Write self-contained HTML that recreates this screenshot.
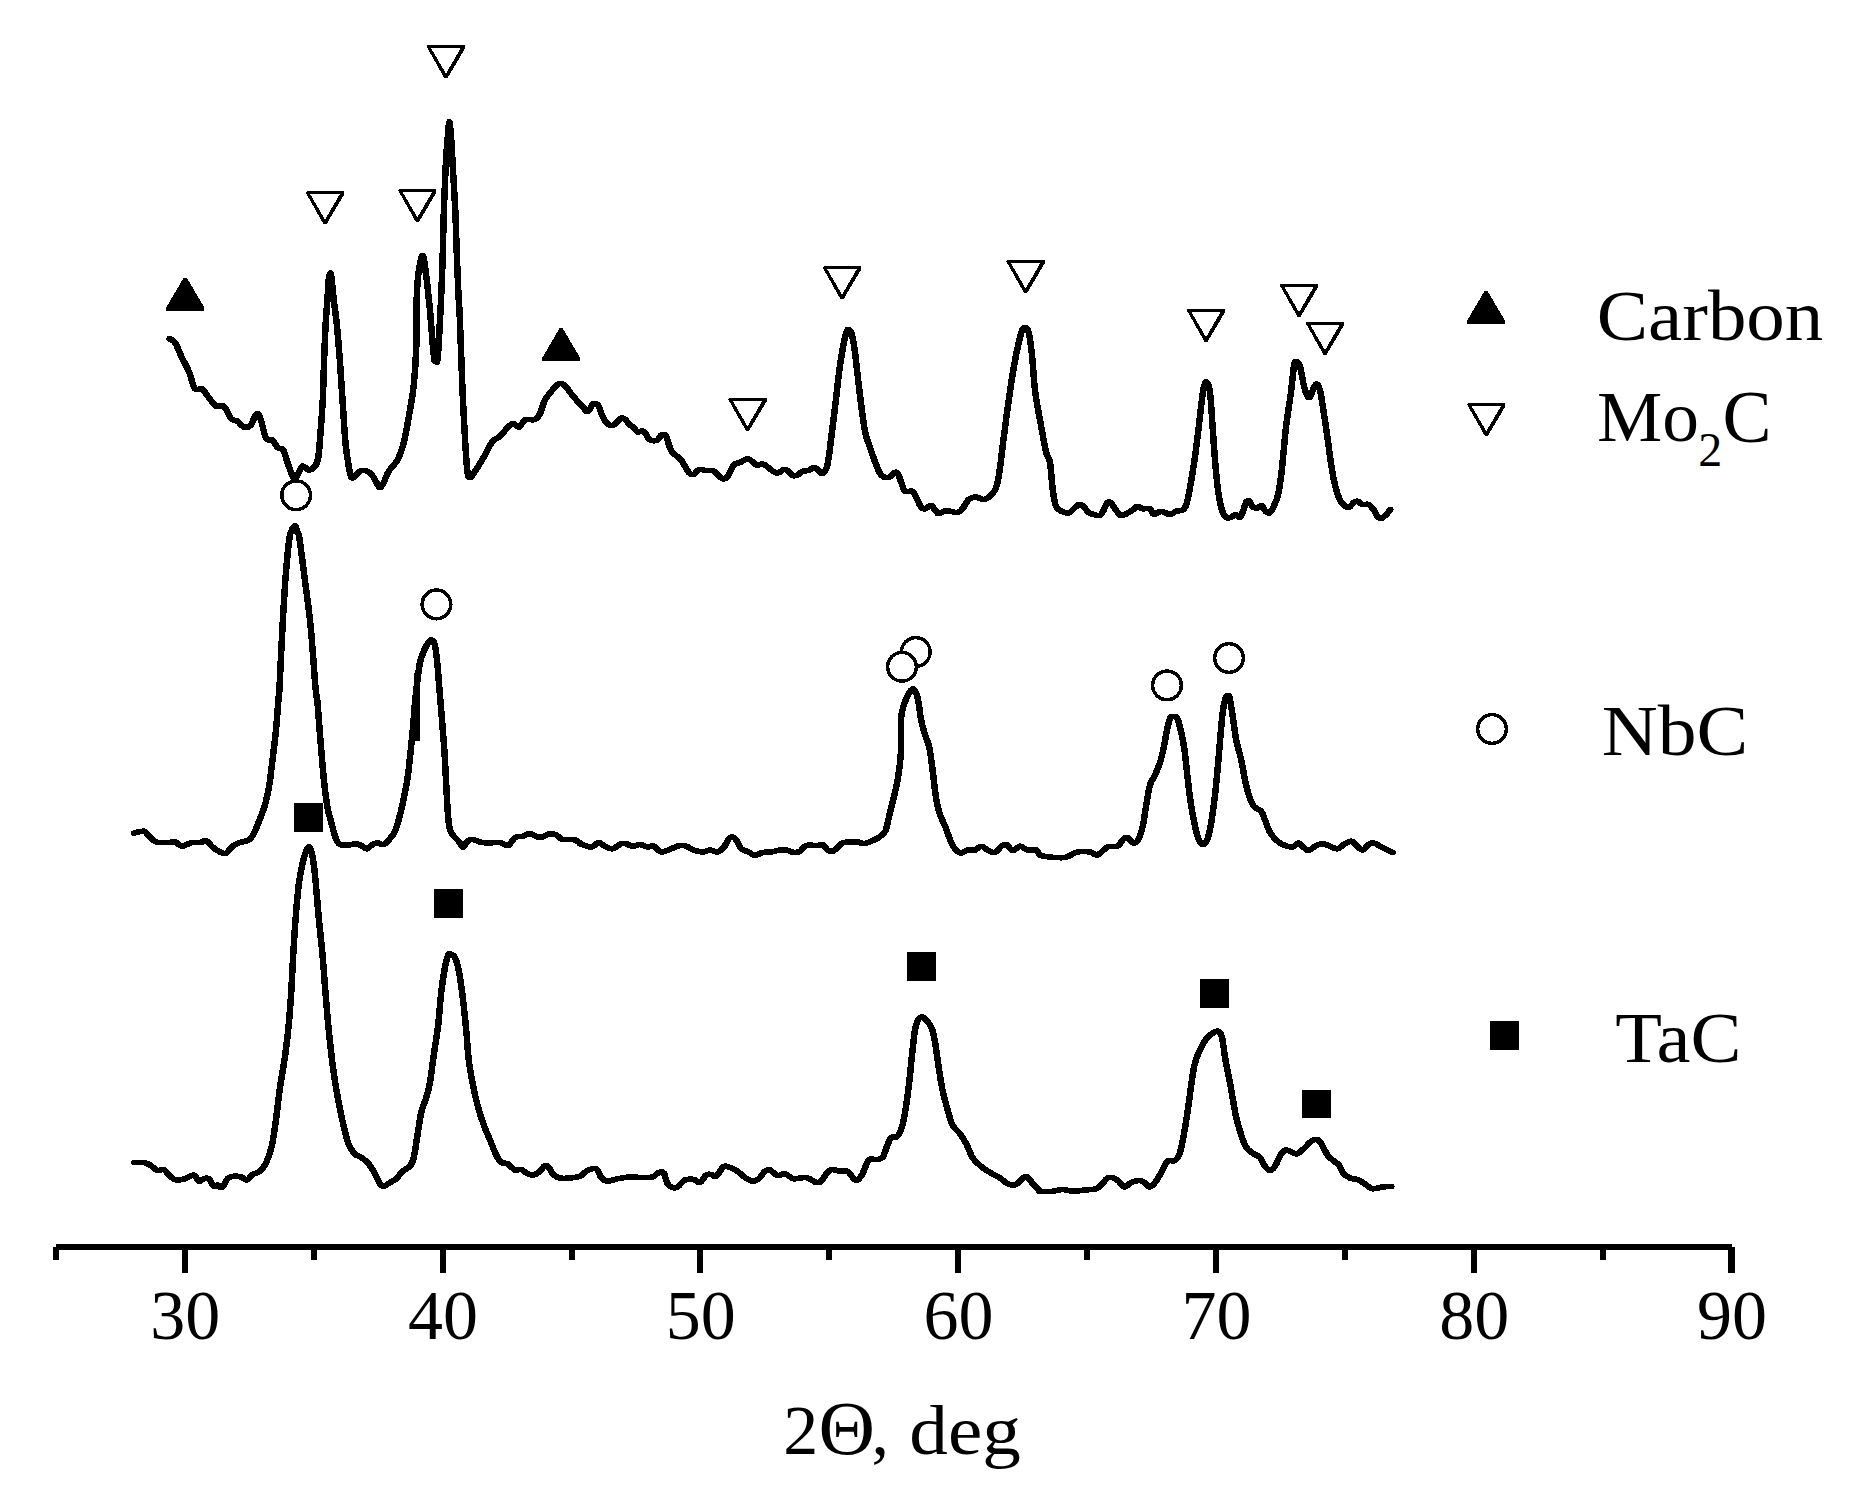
<!DOCTYPE html>
<html><head><meta charset="utf-8"><title>XRD patterns</title>
<style>html,body{margin:0;padding:0;background:#fff}svg{display:block}</style></head>
<body>
<svg width="1871" height="1508" viewBox="0 0 1871 1508" shape-rendering="crispEdges">
<rect width="1871" height="1508" fill="#fff"/>
<g fill="none" stroke="#000" stroke-width="5.50" stroke-linejoin="round" stroke-linecap="round"><path d="M169.50 338.75C170.42 339.38 173.04 339.58 175.00 342.50C176.96 345.42 178.96 351.46 181.25 356.25C183.54 361.04 186.46 365.83 188.75 371.25C191.04 376.67 192.79 385.83 195.00 388.75C197.21 391.67 199.71 387.29 202.00 388.75C204.29 390.21 206.38 394.58 208.75 397.50C211.12 400.42 213.75 404.79 216.25 406.25C218.75 407.71 221.25 404.17 223.75 406.25C226.25 408.33 228.96 416.25 231.25 418.75C233.54 421.25 235.42 419.88 237.50 421.25C239.58 422.62 241.58 426.29 243.75 427.00C245.92 427.71 248.62 427.29 250.50 425.50C252.38 423.71 253.75 418.21 255.00 416.25C256.25 414.29 256.96 412.92 258.00 413.75C259.04 414.58 259.88 417.08 261.25 421.25C262.62 425.42 264.38 435.62 266.25 438.75C268.12 441.88 270.62 438.54 272.50 440.00C274.38 441.46 275.71 445.83 277.50 447.50C279.29 449.17 281.58 447.50 283.25 450.00C284.92 452.50 285.75 457.71 287.50 462.50C289.25 467.29 292.29 476.25 293.75 478.75C295.21 481.25 294.79 479.58 296.25 477.50C297.71 475.42 300.42 467.50 302.50 466.25C304.58 465.00 306.67 470.00 308.75 470.00C310.83 470.00 313.42 468.33 315.00 466.25C316.58 464.17 317.40 462.21 318.25 457.50C319.10 452.79 319.35 447.52 320.10 438.00C320.85 428.48 322.10 412.93 322.75 400.40C323.40 387.87 323.52 375.33 324.00 362.80C324.48 350.27 325.03 335.65 325.60 325.20C326.17 314.75 326.92 307.42 327.40 300.10C327.88 292.78 328.13 285.45 328.50 281.30C328.87 277.15 329.28 276.62 329.60 275.20C329.92 273.78 330.15 272.80 330.40 272.80C330.65 272.80 330.85 273.78 331.10 275.20C331.35 276.62 331.45 277.15 331.90 281.30C332.35 285.45 332.97 292.78 333.80 300.10C334.63 307.42 335.86 314.75 336.90 325.20C337.94 335.65 339.11 350.27 340.05 362.80C340.99 375.33 341.72 387.87 342.55 400.40C343.38 412.93 344.32 428.90 345.06 438.00C345.80 447.10 346.09 448.83 347.00 455.00C347.91 461.17 349.38 471.25 350.50 475.00C351.62 478.75 352.17 478.12 353.75 477.50C355.33 476.88 357.71 472.29 360.00 471.25C362.29 470.21 365.21 470.21 367.50 471.25C369.79 472.29 371.57 474.82 373.75 477.50C375.93 480.18 378.10 488.34 380.60 487.30C383.10 486.26 385.93 475.80 388.75 471.25C391.57 466.70 395.00 464.79 397.50 460.00C400.00 455.21 401.67 450.83 403.75 442.50C405.83 434.17 408.33 419.58 410.00 410.00C411.67 400.42 412.71 395.42 413.75 385.00C414.79 374.58 415.75 362.08 416.25 347.50C416.75 332.92 416.56 307.92 416.75 297.50C416.94 287.08 417.09 289.17 417.40 285.00C417.71 280.83 418.02 276.67 418.60 272.50C419.18 268.33 420.25 262.87 420.90 260.00C421.55 257.13 421.97 255.30 422.50 255.30C423.03 255.30 423.56 257.13 424.10 260.00C424.64 262.87 425.20 268.33 425.75 272.50C426.30 276.67 426.92 280.83 427.40 285.00C427.88 289.17 428.17 293.33 428.60 297.50C429.03 301.67 429.14 300.42 430.00 310.00C430.86 319.58 432.79 346.46 433.75 355.00C434.71 363.54 435.04 361.25 435.75 361.25C436.46 361.25 437.11 365.62 438.00 355.00C438.89 344.38 440.33 313.33 441.10 297.50C441.87 281.67 442.13 274.58 442.60 260.00C443.07 245.42 443.33 226.67 443.90 210.00C444.47 193.33 445.41 171.46 446.00 160.00C446.59 148.54 447.02 146.75 447.45 141.25C447.88 135.75 448.28 130.25 448.60 127.00C448.93 123.75 449.13 121.75 449.40 121.75C449.67 121.75 449.88 123.75 450.20 127.00C450.52 130.25 450.98 135.75 451.35 141.25C451.72 146.75 451.75 148.54 452.40 160.00C453.05 171.46 454.48 193.33 455.25 210.00C456.02 226.67 456.44 245.42 457.00 260.00C457.56 274.58 458.17 288.83 458.60 297.50C459.03 306.17 459.20 303.25 459.60 312.00C460.00 320.75 460.40 334.50 461.00 350.00C461.60 365.50 462.20 385.42 463.20 405.00C464.20 424.58 465.87 455.42 467.00 467.50C468.13 479.58 468.67 476.88 470.00 477.50C471.33 478.12 472.50 475.00 475.00 471.25C477.50 467.50 482.08 460.00 485.00 455.00C487.92 450.00 490.00 444.38 492.50 441.25C495.00 438.12 497.29 438.75 500.00 436.25C502.71 433.75 506.46 428.33 508.75 426.25C511.04 424.17 512.00 423.62 513.75 423.75C515.50 423.88 517.38 427.62 519.25 427.00C521.12 426.38 522.38 421.25 525.00 420.00C527.62 418.75 532.50 420.54 535.00 419.50C537.50 418.46 538.33 417.00 540.00 413.75C541.67 410.50 542.92 403.96 545.00 400.00C547.08 396.04 550.42 392.60 552.50 390.00C554.58 387.40 556.15 385.46 557.50 384.38C558.85 383.29 559.38 383.29 560.62 383.50C561.88 383.71 563.23 383.92 565.00 385.62C566.77 387.33 569.17 391.15 571.25 393.75C573.33 396.35 575.62 399.17 577.50 401.25C579.38 403.33 581.04 404.54 582.50 406.25C583.96 407.96 585.10 410.88 586.25 411.50C587.40 412.12 588.33 411.19 589.38 410.00C590.42 408.81 591.46 405.46 592.50 404.38C593.54 403.29 594.58 403.19 595.62 403.50C596.67 403.81 597.60 404.12 598.75 406.25C599.90 408.38 601.04 413.33 602.50 416.25C603.96 419.17 605.94 422.19 607.50 423.75C609.06 425.31 610.42 425.73 611.88 425.62C613.33 425.52 614.79 424.31 616.25 423.12C617.71 421.94 619.27 419.23 620.62 418.50C621.98 417.77 622.81 417.67 624.38 418.75C625.94 419.83 628.44 423.54 630.00 425.00C631.56 426.46 632.50 426.35 633.75 427.50C635.00 428.65 636.04 431.29 637.50 431.88C638.96 432.46 641.15 430.69 642.50 431.00C643.85 431.31 644.58 432.46 645.62 433.75C646.67 435.04 647.71 437.60 648.75 438.75C649.79 439.90 650.42 440.42 651.88 440.62C653.33 440.83 656.04 440.83 657.50 440.00C658.96 439.17 659.69 436.56 660.62 435.62C661.56 434.69 662.19 434.27 663.12 434.38C664.06 434.48 665.21 434.27 666.25 436.25C667.29 438.23 668.33 443.54 669.38 446.25C670.42 448.96 670.73 450.42 672.50 452.50C674.27 454.58 677.92 456.46 680.00 458.75C682.08 461.04 683.44 463.85 685.00 466.25C686.56 468.65 687.92 471.77 689.38 473.12C690.83 474.48 692.08 475.00 693.75 474.38C695.42 473.75 697.29 470.00 699.38 469.38C701.46 468.75 703.96 470.42 706.25 470.62C708.54 470.83 711.04 469.79 713.12 470.62C715.21 471.46 717.08 474.23 718.75 475.62C720.42 477.02 721.67 478.79 723.12 479.00C724.58 479.21 725.73 479.21 727.50 476.88C729.27 474.54 731.67 467.40 733.75 465.00C735.83 462.60 737.81 463.54 740.00 462.50C742.19 461.46 745.00 459.06 746.88 458.75C748.75 458.44 749.58 459.58 751.25 460.62C752.92 461.67 754.79 464.38 756.88 465.00C758.96 465.62 760.52 463.04 763.75 464.38C766.98 465.71 772.92 472.15 776.25 473.00C779.58 473.85 781.88 469.92 783.75 469.50C785.62 469.08 786.04 469.50 787.50 470.50C788.96 471.50 790.83 474.75 792.50 475.50C794.17 476.25 795.83 475.71 797.50 475.00C799.17 474.29 800.62 472.00 802.50 471.25C804.38 470.50 806.88 471.12 808.75 470.50C810.62 469.88 812.29 467.67 813.75 467.50C815.21 467.33 816.12 468.46 817.50 469.50C818.88 470.54 820.54 473.88 822.00 473.75C823.46 473.62 825.12 471.46 826.25 468.75C827.38 466.04 827.92 462.71 828.75 457.50C829.58 452.29 830.21 445.83 831.25 437.50C832.29 429.17 833.75 417.92 835.00 407.50C836.25 397.08 837.50 384.58 838.75 375.00C840.00 365.42 841.25 357.08 842.50 350.00C843.75 342.92 845.21 335.88 846.25 332.50C847.29 329.12 847.79 329.28 848.75 329.70C849.71 330.12 850.96 331.20 852.00 335.00C853.04 338.80 853.88 344.17 855.00 352.50C856.12 360.83 857.50 374.58 858.75 385.00C860.00 395.42 861.38 406.88 862.50 415.00C863.62 423.12 864.25 428.33 865.50 433.75C866.75 439.17 868.21 442.29 870.00 447.50C871.79 452.71 874.38 460.42 876.25 465.00C878.12 469.58 879.17 472.92 881.25 475.00C883.33 477.08 886.67 477.83 888.75 477.50C890.83 477.17 892.29 473.75 893.75 473.00C895.21 472.25 896.25 471.42 897.50 473.00C898.75 474.58 900.00 479.46 901.25 482.50C902.50 485.54 903.12 489.79 905.00 491.25C906.88 492.71 910.62 490.21 912.50 491.25C914.38 492.29 914.79 494.79 916.25 497.50C917.71 500.21 919.79 505.62 921.25 507.50C922.71 509.38 923.33 509.08 925.00 508.75C926.67 508.42 929.58 505.29 931.25 505.50C932.92 505.71 933.75 508.62 935.00 510.00C936.25 511.38 936.88 513.62 938.75 513.75C940.62 513.88 943.12 510.96 946.25 510.75C949.38 510.54 954.79 512.83 957.50 512.50C960.21 512.17 960.62 510.92 962.50 508.75C964.38 506.58 966.46 501.46 968.75 499.50C971.04 497.54 973.75 497.00 976.25 497.00C978.75 497.00 981.04 500.04 983.75 499.50C986.46 498.96 990.29 496.17 992.50 493.75C994.71 491.33 995.75 489.38 997.00 485.00C998.25 480.62 998.88 475.42 1000.00 467.50C1001.12 459.58 1002.29 448.75 1003.75 437.50C1005.21 426.25 1007.08 411.67 1008.75 400.00C1010.42 388.33 1012.08 377.08 1013.75 367.50C1015.42 357.92 1017.29 348.83 1018.75 342.50C1020.21 336.17 1021.38 331.95 1022.50 329.50C1023.62 327.05 1024.46 327.30 1025.50 327.80C1026.54 328.30 1027.67 327.97 1028.75 332.50C1029.83 337.03 1030.96 345.42 1032.00 355.00C1033.04 364.58 1033.67 379.17 1035.00 390.00C1036.33 400.83 1038.12 409.58 1040.00 420.00C1041.88 430.42 1044.58 445.42 1046.25 452.50C1047.92 459.58 1048.96 456.67 1050.00 462.50C1051.04 468.33 1051.58 480.42 1052.50 487.50C1053.42 494.58 1054.25 501.17 1055.50 505.00C1056.75 508.83 1057.79 509.17 1060.00 510.50C1062.21 511.83 1066.46 513.29 1068.75 513.00C1071.04 512.71 1072.08 510.17 1073.75 508.75C1075.42 507.33 1077.29 505.04 1078.75 504.50C1080.21 503.96 1080.83 504.17 1082.50 505.50C1084.17 506.83 1086.88 511.00 1088.75 512.50C1090.62 514.00 1091.88 514.00 1093.75 514.50C1095.62 515.00 1098.33 516.25 1100.00 515.50C1101.67 514.75 1102.58 512.08 1103.75 510.00C1104.92 507.92 1105.88 504.25 1107.00 503.00C1108.12 501.75 1109.17 501.54 1110.50 502.50C1111.83 503.46 1113.42 506.67 1115.00 508.75C1116.58 510.83 1118.33 514.04 1120.00 515.00C1121.67 515.96 1122.92 515.33 1125.00 514.50C1127.08 513.67 1130.42 511.38 1132.50 510.00C1134.58 508.62 1135.83 506.46 1137.50 506.25C1139.17 506.04 1140.42 508.33 1142.50 508.75C1144.58 509.17 1148.12 507.79 1150.00 508.75C1151.88 509.71 1152.29 513.96 1153.75 514.50C1155.21 515.04 1157.08 512.42 1158.75 512.00C1160.42 511.58 1161.88 511.58 1163.75 512.00C1165.62 512.42 1167.92 514.62 1170.00 514.50C1172.08 514.38 1174.17 512.00 1176.25 511.25C1178.33 510.50 1180.83 511.04 1182.50 510.00C1184.17 508.96 1185.00 508.75 1186.25 505.00C1187.50 501.25 1188.75 494.17 1190.00 487.50C1191.25 480.83 1192.50 473.33 1193.75 465.00C1195.00 456.67 1196.25 447.50 1197.50 437.50C1198.75 427.50 1200.21 413.33 1201.25 405.00C1202.29 396.67 1202.83 391.33 1203.75 387.50C1204.67 383.67 1205.71 381.17 1206.75 382.00C1207.79 382.83 1209.04 385.33 1210.00 392.50C1210.96 399.67 1211.67 413.75 1212.50 425.00C1213.33 436.25 1214.08 449.17 1215.00 460.00C1215.92 470.83 1216.83 481.67 1218.00 490.00C1219.17 498.33 1220.62 505.42 1222.00 510.00C1223.38 514.58 1224.71 516.33 1226.25 517.50C1227.79 518.67 1229.71 517.50 1231.25 517.00C1232.79 516.50 1234.04 514.42 1235.50 514.50C1236.96 514.58 1238.75 518.04 1240.00 517.50C1241.25 516.96 1241.96 513.83 1243.00 511.25C1244.04 508.67 1245.17 503.67 1246.25 502.00C1247.33 500.33 1248.38 500.42 1249.50 501.25C1250.62 502.08 1251.67 505.88 1253.00 507.00C1254.33 508.12 1256.00 508.25 1257.50 508.00C1259.00 507.75 1260.67 504.96 1262.00 505.50C1263.33 506.04 1264.25 510.00 1265.50 511.25C1266.75 512.50 1268.12 513.83 1269.50 513.00C1270.88 512.17 1272.33 509.25 1273.75 506.25C1275.17 503.25 1276.75 500.21 1278.00 495.00C1279.25 489.79 1280.29 482.50 1281.25 475.00C1282.21 467.50 1282.92 458.33 1283.75 450.00C1284.58 441.67 1285.11 434.17 1286.25 425.00C1287.39 415.83 1289.49 403.33 1290.60 395.00C1291.71 386.67 1292.28 380.17 1292.90 375.00C1293.52 369.83 1293.73 366.25 1294.30 364.00C1294.87 361.75 1295.35 361.12 1296.30 361.50C1297.25 361.88 1298.76 362.33 1300.00 366.25C1301.24 370.17 1302.50 380.00 1303.75 385.00C1305.00 390.00 1306.38 394.38 1307.50 396.25C1308.62 398.12 1309.33 397.92 1310.50 396.25C1311.67 394.58 1313.33 388.21 1314.50 386.25C1315.67 384.29 1316.50 383.46 1317.50 384.50C1318.50 385.54 1319.46 387.83 1320.50 392.50C1321.54 397.17 1322.58 405.00 1323.75 412.50C1324.92 420.00 1326.25 428.75 1327.50 437.50C1328.75 446.25 1330.00 457.08 1331.25 465.00C1332.50 472.92 1333.54 479.17 1335.00 485.00C1336.46 490.83 1338.33 496.46 1340.00 500.00C1341.67 503.54 1343.42 505.08 1345.00 506.25C1346.58 507.42 1348.04 507.62 1349.50 507.00C1350.96 506.38 1352.42 503.46 1353.75 502.50C1355.08 501.54 1356.04 500.92 1357.50 501.25C1358.96 501.58 1360.62 503.96 1362.50 504.50C1364.38 505.04 1366.88 503.58 1368.75 504.50C1370.62 505.42 1372.21 507.92 1373.75 510.00C1375.29 512.08 1376.62 515.67 1378.00 517.00C1379.38 518.33 1380.62 518.42 1382.00 518.00C1383.38 517.58 1384.87 515.92 1386.25 514.50C1387.63 513.08 1389.62 510.33 1390.30 509.50" transform="translate(-0.5 0)"/><path d="M169.50 338.75C170.42 339.38 173.04 339.58 175.00 342.50C176.96 345.42 178.96 351.46 181.25 356.25C183.54 361.04 186.46 365.83 188.75 371.25C191.04 376.67 192.79 385.83 195.00 388.75C197.21 391.67 199.71 387.29 202.00 388.75C204.29 390.21 206.38 394.58 208.75 397.50C211.12 400.42 213.75 404.79 216.25 406.25C218.75 407.71 221.25 404.17 223.75 406.25C226.25 408.33 228.96 416.25 231.25 418.75C233.54 421.25 235.42 419.88 237.50 421.25C239.58 422.62 241.58 426.29 243.75 427.00C245.92 427.71 248.62 427.29 250.50 425.50C252.38 423.71 253.75 418.21 255.00 416.25C256.25 414.29 256.96 412.92 258.00 413.75C259.04 414.58 259.88 417.08 261.25 421.25C262.62 425.42 264.38 435.62 266.25 438.75C268.12 441.88 270.62 438.54 272.50 440.00C274.38 441.46 275.71 445.83 277.50 447.50C279.29 449.17 281.58 447.50 283.25 450.00C284.92 452.50 285.75 457.71 287.50 462.50C289.25 467.29 292.29 476.25 293.75 478.75C295.21 481.25 294.79 479.58 296.25 477.50C297.71 475.42 300.42 467.50 302.50 466.25C304.58 465.00 306.67 470.00 308.75 470.00C310.83 470.00 313.42 468.33 315.00 466.25C316.58 464.17 317.40 462.21 318.25 457.50C319.10 452.79 319.35 447.52 320.10 438.00C320.85 428.48 322.10 412.93 322.75 400.40C323.40 387.87 323.52 375.33 324.00 362.80C324.48 350.27 325.03 335.65 325.60 325.20C326.17 314.75 326.92 307.42 327.40 300.10C327.88 292.78 328.13 285.45 328.50 281.30C328.87 277.15 329.28 276.62 329.60 275.20C329.92 273.78 330.15 272.80 330.40 272.80C330.65 272.80 330.85 273.78 331.10 275.20C331.35 276.62 331.45 277.15 331.90 281.30C332.35 285.45 332.97 292.78 333.80 300.10C334.63 307.42 335.86 314.75 336.90 325.20C337.94 335.65 339.11 350.27 340.05 362.80C340.99 375.33 341.72 387.87 342.55 400.40C343.38 412.93 344.32 428.90 345.06 438.00C345.80 447.10 346.09 448.83 347.00 455.00C347.91 461.17 349.38 471.25 350.50 475.00C351.62 478.75 352.17 478.12 353.75 477.50C355.33 476.88 357.71 472.29 360.00 471.25C362.29 470.21 365.21 470.21 367.50 471.25C369.79 472.29 371.57 474.82 373.75 477.50C375.93 480.18 378.10 488.34 380.60 487.30C383.10 486.26 385.93 475.80 388.75 471.25C391.57 466.70 395.00 464.79 397.50 460.00C400.00 455.21 401.67 450.83 403.75 442.50C405.83 434.17 408.33 419.58 410.00 410.00C411.67 400.42 412.71 395.42 413.75 385.00C414.79 374.58 415.75 362.08 416.25 347.50C416.75 332.92 416.56 307.92 416.75 297.50C416.94 287.08 417.09 289.17 417.40 285.00C417.71 280.83 418.02 276.67 418.60 272.50C419.18 268.33 420.25 262.87 420.90 260.00C421.55 257.13 421.97 255.30 422.50 255.30C423.03 255.30 423.56 257.13 424.10 260.00C424.64 262.87 425.20 268.33 425.75 272.50C426.30 276.67 426.92 280.83 427.40 285.00C427.88 289.17 428.17 293.33 428.60 297.50C429.03 301.67 429.14 300.42 430.00 310.00C430.86 319.58 432.79 346.46 433.75 355.00C434.71 363.54 435.04 361.25 435.75 361.25C436.46 361.25 437.11 365.62 438.00 355.00C438.89 344.38 440.33 313.33 441.10 297.50C441.87 281.67 442.13 274.58 442.60 260.00C443.07 245.42 443.33 226.67 443.90 210.00C444.47 193.33 445.41 171.46 446.00 160.00C446.59 148.54 447.02 146.75 447.45 141.25C447.88 135.75 448.28 130.25 448.60 127.00C448.93 123.75 449.13 121.75 449.40 121.75C449.67 121.75 449.88 123.75 450.20 127.00C450.52 130.25 450.98 135.75 451.35 141.25C451.72 146.75 451.75 148.54 452.40 160.00C453.05 171.46 454.48 193.33 455.25 210.00C456.02 226.67 456.44 245.42 457.00 260.00C457.56 274.58 458.17 288.83 458.60 297.50C459.03 306.17 459.20 303.25 459.60 312.00C460.00 320.75 460.40 334.50 461.00 350.00C461.60 365.50 462.20 385.42 463.20 405.00C464.20 424.58 465.87 455.42 467.00 467.50C468.13 479.58 468.67 476.88 470.00 477.50C471.33 478.12 472.50 475.00 475.00 471.25C477.50 467.50 482.08 460.00 485.00 455.00C487.92 450.00 490.00 444.38 492.50 441.25C495.00 438.12 497.29 438.75 500.00 436.25C502.71 433.75 506.46 428.33 508.75 426.25C511.04 424.17 512.00 423.62 513.75 423.75C515.50 423.88 517.38 427.62 519.25 427.00C521.12 426.38 522.38 421.25 525.00 420.00C527.62 418.75 532.50 420.54 535.00 419.50C537.50 418.46 538.33 417.00 540.00 413.75C541.67 410.50 542.92 403.96 545.00 400.00C547.08 396.04 550.42 392.60 552.50 390.00C554.58 387.40 556.15 385.46 557.50 384.38C558.85 383.29 559.38 383.29 560.62 383.50C561.88 383.71 563.23 383.92 565.00 385.62C566.77 387.33 569.17 391.15 571.25 393.75C573.33 396.35 575.62 399.17 577.50 401.25C579.38 403.33 581.04 404.54 582.50 406.25C583.96 407.96 585.10 410.88 586.25 411.50C587.40 412.12 588.33 411.19 589.38 410.00C590.42 408.81 591.46 405.46 592.50 404.38C593.54 403.29 594.58 403.19 595.62 403.50C596.67 403.81 597.60 404.12 598.75 406.25C599.90 408.38 601.04 413.33 602.50 416.25C603.96 419.17 605.94 422.19 607.50 423.75C609.06 425.31 610.42 425.73 611.88 425.62C613.33 425.52 614.79 424.31 616.25 423.12C617.71 421.94 619.27 419.23 620.62 418.50C621.98 417.77 622.81 417.67 624.38 418.75C625.94 419.83 628.44 423.54 630.00 425.00C631.56 426.46 632.50 426.35 633.75 427.50C635.00 428.65 636.04 431.29 637.50 431.88C638.96 432.46 641.15 430.69 642.50 431.00C643.85 431.31 644.58 432.46 645.62 433.75C646.67 435.04 647.71 437.60 648.75 438.75C649.79 439.90 650.42 440.42 651.88 440.62C653.33 440.83 656.04 440.83 657.50 440.00C658.96 439.17 659.69 436.56 660.62 435.62C661.56 434.69 662.19 434.27 663.12 434.38C664.06 434.48 665.21 434.27 666.25 436.25C667.29 438.23 668.33 443.54 669.38 446.25C670.42 448.96 670.73 450.42 672.50 452.50C674.27 454.58 677.92 456.46 680.00 458.75C682.08 461.04 683.44 463.85 685.00 466.25C686.56 468.65 687.92 471.77 689.38 473.12C690.83 474.48 692.08 475.00 693.75 474.38C695.42 473.75 697.29 470.00 699.38 469.38C701.46 468.75 703.96 470.42 706.25 470.62C708.54 470.83 711.04 469.79 713.12 470.62C715.21 471.46 717.08 474.23 718.75 475.62C720.42 477.02 721.67 478.79 723.12 479.00C724.58 479.21 725.73 479.21 727.50 476.88C729.27 474.54 731.67 467.40 733.75 465.00C735.83 462.60 737.81 463.54 740.00 462.50C742.19 461.46 745.00 459.06 746.88 458.75C748.75 458.44 749.58 459.58 751.25 460.62C752.92 461.67 754.79 464.38 756.88 465.00C758.96 465.62 760.52 463.04 763.75 464.38C766.98 465.71 772.92 472.15 776.25 473.00C779.58 473.85 781.88 469.92 783.75 469.50C785.62 469.08 786.04 469.50 787.50 470.50C788.96 471.50 790.83 474.75 792.50 475.50C794.17 476.25 795.83 475.71 797.50 475.00C799.17 474.29 800.62 472.00 802.50 471.25C804.38 470.50 806.88 471.12 808.75 470.50C810.62 469.88 812.29 467.67 813.75 467.50C815.21 467.33 816.12 468.46 817.50 469.50C818.88 470.54 820.54 473.88 822.00 473.75C823.46 473.62 825.12 471.46 826.25 468.75C827.38 466.04 827.92 462.71 828.75 457.50C829.58 452.29 830.21 445.83 831.25 437.50C832.29 429.17 833.75 417.92 835.00 407.50C836.25 397.08 837.50 384.58 838.75 375.00C840.00 365.42 841.25 357.08 842.50 350.00C843.75 342.92 845.21 335.88 846.25 332.50C847.29 329.12 847.79 329.28 848.75 329.70C849.71 330.12 850.96 331.20 852.00 335.00C853.04 338.80 853.88 344.17 855.00 352.50C856.12 360.83 857.50 374.58 858.75 385.00C860.00 395.42 861.38 406.88 862.50 415.00C863.62 423.12 864.25 428.33 865.50 433.75C866.75 439.17 868.21 442.29 870.00 447.50C871.79 452.71 874.38 460.42 876.25 465.00C878.12 469.58 879.17 472.92 881.25 475.00C883.33 477.08 886.67 477.83 888.75 477.50C890.83 477.17 892.29 473.75 893.75 473.00C895.21 472.25 896.25 471.42 897.50 473.00C898.75 474.58 900.00 479.46 901.25 482.50C902.50 485.54 903.12 489.79 905.00 491.25C906.88 492.71 910.62 490.21 912.50 491.25C914.38 492.29 914.79 494.79 916.25 497.50C917.71 500.21 919.79 505.62 921.25 507.50C922.71 509.38 923.33 509.08 925.00 508.75C926.67 508.42 929.58 505.29 931.25 505.50C932.92 505.71 933.75 508.62 935.00 510.00C936.25 511.38 936.88 513.62 938.75 513.75C940.62 513.88 943.12 510.96 946.25 510.75C949.38 510.54 954.79 512.83 957.50 512.50C960.21 512.17 960.62 510.92 962.50 508.75C964.38 506.58 966.46 501.46 968.75 499.50C971.04 497.54 973.75 497.00 976.25 497.00C978.75 497.00 981.04 500.04 983.75 499.50C986.46 498.96 990.29 496.17 992.50 493.75C994.71 491.33 995.75 489.38 997.00 485.00C998.25 480.62 998.88 475.42 1000.00 467.50C1001.12 459.58 1002.29 448.75 1003.75 437.50C1005.21 426.25 1007.08 411.67 1008.75 400.00C1010.42 388.33 1012.08 377.08 1013.75 367.50C1015.42 357.92 1017.29 348.83 1018.75 342.50C1020.21 336.17 1021.38 331.95 1022.50 329.50C1023.62 327.05 1024.46 327.30 1025.50 327.80C1026.54 328.30 1027.67 327.97 1028.75 332.50C1029.83 337.03 1030.96 345.42 1032.00 355.00C1033.04 364.58 1033.67 379.17 1035.00 390.00C1036.33 400.83 1038.12 409.58 1040.00 420.00C1041.88 430.42 1044.58 445.42 1046.25 452.50C1047.92 459.58 1048.96 456.67 1050.00 462.50C1051.04 468.33 1051.58 480.42 1052.50 487.50C1053.42 494.58 1054.25 501.17 1055.50 505.00C1056.75 508.83 1057.79 509.17 1060.00 510.50C1062.21 511.83 1066.46 513.29 1068.75 513.00C1071.04 512.71 1072.08 510.17 1073.75 508.75C1075.42 507.33 1077.29 505.04 1078.75 504.50C1080.21 503.96 1080.83 504.17 1082.50 505.50C1084.17 506.83 1086.88 511.00 1088.75 512.50C1090.62 514.00 1091.88 514.00 1093.75 514.50C1095.62 515.00 1098.33 516.25 1100.00 515.50C1101.67 514.75 1102.58 512.08 1103.75 510.00C1104.92 507.92 1105.88 504.25 1107.00 503.00C1108.12 501.75 1109.17 501.54 1110.50 502.50C1111.83 503.46 1113.42 506.67 1115.00 508.75C1116.58 510.83 1118.33 514.04 1120.00 515.00C1121.67 515.96 1122.92 515.33 1125.00 514.50C1127.08 513.67 1130.42 511.38 1132.50 510.00C1134.58 508.62 1135.83 506.46 1137.50 506.25C1139.17 506.04 1140.42 508.33 1142.50 508.75C1144.58 509.17 1148.12 507.79 1150.00 508.75C1151.88 509.71 1152.29 513.96 1153.75 514.50C1155.21 515.04 1157.08 512.42 1158.75 512.00C1160.42 511.58 1161.88 511.58 1163.75 512.00C1165.62 512.42 1167.92 514.62 1170.00 514.50C1172.08 514.38 1174.17 512.00 1176.25 511.25C1178.33 510.50 1180.83 511.04 1182.50 510.00C1184.17 508.96 1185.00 508.75 1186.25 505.00C1187.50 501.25 1188.75 494.17 1190.00 487.50C1191.25 480.83 1192.50 473.33 1193.75 465.00C1195.00 456.67 1196.25 447.50 1197.50 437.50C1198.75 427.50 1200.21 413.33 1201.25 405.00C1202.29 396.67 1202.83 391.33 1203.75 387.50C1204.67 383.67 1205.71 381.17 1206.75 382.00C1207.79 382.83 1209.04 385.33 1210.00 392.50C1210.96 399.67 1211.67 413.75 1212.50 425.00C1213.33 436.25 1214.08 449.17 1215.00 460.00C1215.92 470.83 1216.83 481.67 1218.00 490.00C1219.17 498.33 1220.62 505.42 1222.00 510.00C1223.38 514.58 1224.71 516.33 1226.25 517.50C1227.79 518.67 1229.71 517.50 1231.25 517.00C1232.79 516.50 1234.04 514.42 1235.50 514.50C1236.96 514.58 1238.75 518.04 1240.00 517.50C1241.25 516.96 1241.96 513.83 1243.00 511.25C1244.04 508.67 1245.17 503.67 1246.25 502.00C1247.33 500.33 1248.38 500.42 1249.50 501.25C1250.62 502.08 1251.67 505.88 1253.00 507.00C1254.33 508.12 1256.00 508.25 1257.50 508.00C1259.00 507.75 1260.67 504.96 1262.00 505.50C1263.33 506.04 1264.25 510.00 1265.50 511.25C1266.75 512.50 1268.12 513.83 1269.50 513.00C1270.88 512.17 1272.33 509.25 1273.75 506.25C1275.17 503.25 1276.75 500.21 1278.00 495.00C1279.25 489.79 1280.29 482.50 1281.25 475.00C1282.21 467.50 1282.92 458.33 1283.75 450.00C1284.58 441.67 1285.11 434.17 1286.25 425.00C1287.39 415.83 1289.49 403.33 1290.60 395.00C1291.71 386.67 1292.28 380.17 1292.90 375.00C1293.52 369.83 1293.73 366.25 1294.30 364.00C1294.87 361.75 1295.35 361.12 1296.30 361.50C1297.25 361.88 1298.76 362.33 1300.00 366.25C1301.24 370.17 1302.50 380.00 1303.75 385.00C1305.00 390.00 1306.38 394.38 1307.50 396.25C1308.62 398.12 1309.33 397.92 1310.50 396.25C1311.67 394.58 1313.33 388.21 1314.50 386.25C1315.67 384.29 1316.50 383.46 1317.50 384.50C1318.50 385.54 1319.46 387.83 1320.50 392.50C1321.54 397.17 1322.58 405.00 1323.75 412.50C1324.92 420.00 1326.25 428.75 1327.50 437.50C1328.75 446.25 1330.00 457.08 1331.25 465.00C1332.50 472.92 1333.54 479.17 1335.00 485.00C1336.46 490.83 1338.33 496.46 1340.00 500.00C1341.67 503.54 1343.42 505.08 1345.00 506.25C1346.58 507.42 1348.04 507.62 1349.50 507.00C1350.96 506.38 1352.42 503.46 1353.75 502.50C1355.08 501.54 1356.04 500.92 1357.50 501.25C1358.96 501.58 1360.62 503.96 1362.50 504.50C1364.38 505.04 1366.88 503.58 1368.75 504.50C1370.62 505.42 1372.21 507.92 1373.75 510.00C1375.29 512.08 1376.62 515.67 1378.00 517.00C1379.38 518.33 1380.62 518.42 1382.00 518.00C1383.38 517.58 1384.87 515.92 1386.25 514.50C1387.63 513.08 1389.62 510.33 1390.30 509.50" transform="translate(0.5 0)"/></g>
<g fill="none" stroke="#000" stroke-width="5.50" stroke-linejoin="round" stroke-linecap="round"><path d="M134.00 833.00C135.62 832.70 141.29 830.75 143.75 831.20C146.21 831.65 146.67 833.91 148.75 835.70C150.83 837.49 153.12 840.78 156.25 841.95C159.38 843.12 164.38 842.70 167.50 842.70C170.62 842.70 172.58 841.37 175.00 841.95C177.42 842.53 179.29 846.08 182.00 846.20C184.71 846.33 188.25 843.28 191.25 842.70C194.25 842.12 197.50 843.03 200.00 842.70C202.50 842.37 204.17 839.99 206.25 840.70C208.33 841.41 210.21 845.08 212.50 846.95C214.79 848.83 217.71 850.91 220.00 851.95C222.29 852.99 224.17 854.15 226.25 853.20C228.33 852.25 230.21 848.03 232.50 846.25C234.79 844.47 237.29 843.54 240.00 842.50C242.71 841.46 246.46 841.46 248.75 840.00C251.04 838.54 251.96 837.08 253.75 833.75C255.54 830.42 257.62 824.79 259.50 820.00C261.38 815.21 263.37 810.83 265.00 805.00C266.63 799.17 268.05 792.50 269.30 785.00C270.55 777.50 271.38 769.17 272.50 760.00C273.62 750.83 275.02 740.00 276.00 730.00C276.98 720.00 277.82 707.08 278.40 700.00C278.98 692.92 278.80 700.00 279.50 687.50C280.20 675.00 281.56 643.75 282.60 625.00C283.64 606.25 284.60 589.58 285.75 575.00C286.90 560.42 288.56 544.79 289.50 537.50C290.44 530.21 290.77 532.97 291.40 531.25C292.03 529.53 292.70 528.09 293.30 527.20C293.90 526.31 294.55 525.90 295.00 525.90C295.45 525.90 295.70 526.31 296.00 527.20C296.30 528.09 296.26 529.53 296.80 531.25C297.34 532.97 298.01 530.21 299.25 537.50C300.49 544.79 302.38 560.42 304.25 575.00C306.12 589.58 308.62 606.25 310.50 625.00C312.38 643.75 314.33 674.58 315.50 687.50C316.67 700.42 316.75 694.58 317.50 702.50C318.25 710.42 319.17 724.58 320.00 735.00C320.83 745.42 321.67 755.83 322.50 765.00C323.33 774.17 324.08 782.50 325.00 790.00C325.92 797.50 326.83 804.17 328.00 810.00C329.17 815.83 330.75 820.42 332.00 825.00C333.25 829.58 334.17 834.25 335.50 837.50C336.83 840.75 337.79 843.25 340.00 844.50C342.21 845.75 346.04 845.12 348.75 845.00C351.46 844.88 353.96 843.54 356.25 843.75C358.54 843.96 360.71 845.42 362.50 846.25C364.29 847.08 365.33 849.04 367.00 848.75C368.67 848.46 370.75 845.46 372.50 844.50C374.25 843.54 375.62 843.00 377.50 843.00C379.38 843.00 381.88 845.00 383.75 844.50C385.62 844.00 386.88 842.21 388.75 840.00C390.62 837.79 393.12 835.42 395.00 831.25C396.88 827.08 398.33 821.46 400.00 815.00C401.67 808.54 403.67 799.17 405.00 792.50C406.33 785.83 407.08 781.67 408.00 775.00C408.92 768.33 409.67 760.42 410.50 752.50C411.33 744.58 412.25 735.83 413.00 727.50C413.75 719.17 414.25 710.42 415.00 702.50C415.75 694.58 416.67 686.67 417.50 680.00C418.33 673.33 418.96 667.29 420.00 662.50C421.04 657.71 422.42 654.50 423.75 651.25C425.08 648.00 426.75 644.88 428.00 643.00C429.25 641.12 430.17 639.88 431.25 640.00C432.33 640.12 433.54 640.42 434.50 643.75C435.46 647.08 436.17 652.29 437.00 660.00C437.83 667.71 438.67 680.00 439.50 690.00C440.33 700.00 441.17 709.58 442.00 720.00C442.83 730.42 443.79 741.67 444.50 752.50C445.21 763.33 445.67 774.58 446.25 785.00C446.83 795.42 447.38 807.50 448.00 815.00C448.62 822.50 449.04 826.46 450.00 830.00C450.96 833.54 452.29 834.38 453.75 836.25C455.21 838.12 457.21 839.38 458.75 841.25C460.29 843.12 461.54 847.50 463.00 847.50C464.46 847.50 465.92 842.58 467.50 841.25C469.08 839.92 470.42 839.38 472.50 839.50C474.58 839.62 477.50 841.42 480.00 842.00C482.50 842.58 484.17 842.92 487.50 843.00C490.83 843.08 496.58 842.08 500.00 842.50C503.42 842.92 505.50 846.33 508.00 845.50C510.50 844.67 512.58 839.04 515.00 837.50C517.42 835.96 520.00 836.88 522.50 836.25C525.00 835.62 527.08 833.54 530.00 833.75C532.92 833.96 536.67 837.50 540.00 837.50C543.33 837.50 547.29 834.17 550.00 833.75C552.71 833.33 554.17 834.04 556.25 835.00C558.33 835.96 559.58 838.75 562.50 839.50C565.42 840.25 570.62 838.79 573.75 839.50C576.88 840.21 580.21 843.04 581.25 843.75C582.29 844.46 578.33 843.21 580.00 843.75C581.67 844.29 588.12 847.21 591.25 847.00C594.38 846.79 596.46 842.62 598.75 842.50C601.04 842.38 602.71 845.21 605.00 846.25C607.29 847.29 609.79 849.17 612.50 848.75C615.21 848.33 618.96 844.58 621.25 843.75C623.54 842.92 624.38 843.33 626.25 843.75C628.12 844.17 630.21 846.12 632.50 846.25C634.79 846.38 637.50 844.38 640.00 844.50C642.50 844.62 645.21 846.71 647.50 847.00C649.79 847.29 651.46 845.42 653.75 846.25C656.04 847.08 658.33 851.58 661.25 852.00C664.17 852.42 668.12 849.83 671.25 848.75C674.38 847.67 677.50 845.92 680.00 845.50C682.50 845.08 683.96 845.50 686.25 846.25C688.54 847.00 691.04 849.04 693.75 850.00C696.46 850.96 699.79 852.00 702.50 852.00C705.21 852.00 707.50 850.00 710.00 850.00C712.50 850.00 715.21 852.42 717.50 852.00C719.79 851.58 721.88 849.71 723.75 847.50C725.62 845.29 727.29 840.50 728.75 838.75C730.21 837.00 731.25 836.79 732.50 837.00C733.75 837.21 734.79 838.04 736.25 840.00C737.71 841.96 739.17 846.75 741.25 848.75C743.33 850.75 746.46 850.88 748.75 852.00C751.04 853.12 752.71 855.42 755.00 855.50C757.29 855.58 759.79 853.08 762.50 852.50C765.21 851.92 768.33 852.42 771.25 852.00C774.17 851.58 777.50 850.33 780.00 850.00C782.50 849.67 783.96 849.58 786.25 850.00C788.54 850.42 791.46 852.29 793.75 852.50C796.04 852.71 797.92 852.42 800.00 851.25C802.08 850.08 803.54 846.46 806.25 845.50C808.96 844.54 813.46 845.58 816.25 845.50C819.04 845.42 821.12 844.25 823.00 845.00C824.88 845.75 825.92 848.96 827.50 850.00C829.08 851.04 830.83 851.67 832.50 851.25C834.17 850.83 835.62 848.96 837.50 847.50C839.38 846.04 840.42 843.42 843.75 842.50C847.08 841.58 854.17 841.79 857.50 842.00C860.83 842.21 861.46 843.88 863.75 843.75C866.04 843.62 868.75 842.29 871.25 841.25C873.75 840.21 876.41 839.17 878.75 837.50C881.09 835.83 883.67 834.33 885.30 831.25C886.92 828.17 887.30 823.79 888.50 819.00C889.70 814.21 891.10 808.38 892.50 802.50C893.90 796.62 895.69 790.00 896.90 783.75C898.11 777.50 899.08 770.21 899.75 765.00C900.42 759.79 900.67 757.50 900.90 752.50C901.12 747.50 901.05 740.83 901.10 735.00C901.15 729.17 900.76 722.50 901.20 717.50C901.64 712.50 902.70 708.54 903.75 705.00C904.80 701.46 906.25 698.75 907.50 696.25C908.75 693.75 910.08 691.04 911.25 690.00C912.42 688.96 913.36 688.33 914.50 690.00C915.64 691.67 917.00 695.00 918.10 700.00C919.20 705.00 919.93 714.17 921.10 720.00C922.27 725.83 923.73 730.42 925.10 735.00C926.48 739.58 928.10 741.67 929.35 747.50C930.60 753.33 931.56 762.08 932.60 770.00C933.64 777.92 934.48 787.92 935.60 795.00C936.73 802.08 937.68 807.08 939.35 812.50C941.02 817.92 943.62 822.50 945.60 827.50C947.58 832.50 949.48 838.67 951.25 842.50C953.02 846.33 954.58 848.75 956.25 850.50C957.92 852.25 959.38 853.08 961.25 853.00C963.12 852.92 965.21 850.50 967.50 850.00C969.79 849.50 972.71 850.62 975.00 850.00C977.29 849.38 979.17 846.25 981.25 846.25C983.33 846.25 985.21 848.96 987.50 850.00C989.79 851.04 992.71 853.12 995.00 852.50C997.29 851.88 999.38 847.58 1001.25 846.25C1003.12 844.92 1004.38 843.79 1006.25 844.50C1008.12 845.21 1010.21 850.21 1012.50 850.50C1014.79 850.79 1017.50 846.33 1020.00 846.25C1022.50 846.17 1024.79 849.38 1027.50 850.00C1030.21 850.62 1034.17 849.17 1036.25 850.00C1038.33 850.83 1037.71 853.83 1040.00 855.00C1042.29 856.17 1045.83 856.58 1050.00 857.00C1054.17 857.42 1060.42 858.33 1065.00 857.50C1069.58 856.67 1073.33 852.92 1077.50 852.00C1081.67 851.08 1086.67 851.50 1090.00 852.00C1093.33 852.50 1094.58 855.83 1097.50 855.00C1100.42 854.17 1104.17 848.46 1107.50 847.00C1110.83 845.54 1114.79 847.62 1117.50 846.25C1120.21 844.88 1122.00 840.12 1123.75 838.75C1125.50 837.38 1126.33 837.29 1128.00 838.00C1129.67 838.71 1131.96 842.88 1133.75 843.00C1135.54 843.12 1137.21 841.75 1138.75 838.75C1140.29 835.75 1141.75 830.62 1143.00 825.00C1144.25 819.38 1145.08 811.67 1146.25 805.00C1147.42 798.33 1148.54 790.00 1150.00 785.00C1151.46 780.00 1153.33 778.75 1155.00 775.00C1156.67 771.25 1158.54 767.08 1160.00 762.50C1161.46 757.92 1162.50 753.33 1163.75 747.50C1165.00 741.67 1166.38 732.50 1167.50 727.50C1168.62 722.50 1169.46 719.33 1170.50 717.50C1171.54 715.67 1172.58 716.29 1173.75 716.50C1174.92 716.71 1176.25 716.08 1177.50 718.75C1178.75 721.42 1180.08 727.29 1181.25 732.50C1182.42 737.71 1183.54 743.33 1184.50 750.00C1185.46 756.67 1186.08 764.58 1187.00 772.50C1187.92 780.42 1188.88 789.58 1190.00 797.50C1191.12 805.42 1192.42 813.33 1193.75 820.00C1195.08 826.67 1196.54 833.42 1198.00 837.50C1199.46 841.58 1200.92 844.29 1202.50 844.50C1204.08 844.71 1206.04 842.42 1207.50 838.75C1208.96 835.08 1210.00 829.79 1211.25 822.50C1212.50 815.21 1213.88 804.58 1215.00 795.00C1216.12 785.42 1217.08 775.00 1218.00 765.00C1218.92 755.00 1219.67 744.17 1220.50 735.00C1221.33 725.83 1222.04 716.35 1223.00 710.00C1223.96 703.65 1225.17 698.98 1226.25 696.90C1227.33 694.82 1228.46 694.48 1229.50 697.50C1230.54 700.52 1231.38 707.92 1232.50 715.00C1233.62 722.08 1234.79 732.50 1236.25 740.00C1237.71 747.50 1239.79 753.33 1241.25 760.00C1242.71 766.67 1243.75 774.17 1245.00 780.00C1246.25 785.83 1247.29 790.62 1248.75 795.00C1250.21 799.38 1251.67 803.54 1253.75 806.25C1255.83 808.96 1259.38 808.96 1261.25 811.25C1263.12 813.54 1263.54 816.46 1265.00 820.00C1266.46 823.54 1268.12 829.17 1270.00 832.50C1271.88 835.83 1274.17 838.00 1276.25 840.00C1278.33 842.00 1279.79 843.33 1282.50 844.50C1285.21 845.67 1289.79 847.25 1292.50 847.00C1295.21 846.75 1296.88 842.92 1298.75 843.00C1300.62 843.08 1302.08 846.25 1303.75 847.50C1305.42 848.75 1306.88 850.71 1308.75 850.50C1310.62 850.29 1312.71 847.38 1315.00 846.25C1317.29 845.12 1320.00 843.75 1322.50 843.75C1325.00 843.75 1327.50 845.42 1330.00 846.25C1332.50 847.08 1335.00 849.17 1337.50 848.75C1340.00 848.33 1342.71 845.00 1345.00 843.75C1347.29 842.50 1349.38 841.04 1351.25 841.25C1353.12 841.46 1354.38 843.54 1356.25 845.00C1358.12 846.46 1360.42 850.08 1362.50 850.00C1364.58 849.92 1366.88 845.67 1368.75 844.50C1370.62 843.33 1371.46 842.50 1373.75 843.00C1376.04 843.50 1379.38 845.92 1382.50 847.50C1385.62 849.08 1390.83 851.67 1392.50 852.50" transform="translate(-0.5 0)"/><path d="M134.00 833.00C135.62 832.70 141.29 830.75 143.75 831.20C146.21 831.65 146.67 833.91 148.75 835.70C150.83 837.49 153.12 840.78 156.25 841.95C159.38 843.12 164.38 842.70 167.50 842.70C170.62 842.70 172.58 841.37 175.00 841.95C177.42 842.53 179.29 846.08 182.00 846.20C184.71 846.33 188.25 843.28 191.25 842.70C194.25 842.12 197.50 843.03 200.00 842.70C202.50 842.37 204.17 839.99 206.25 840.70C208.33 841.41 210.21 845.08 212.50 846.95C214.79 848.83 217.71 850.91 220.00 851.95C222.29 852.99 224.17 854.15 226.25 853.20C228.33 852.25 230.21 848.03 232.50 846.25C234.79 844.47 237.29 843.54 240.00 842.50C242.71 841.46 246.46 841.46 248.75 840.00C251.04 838.54 251.96 837.08 253.75 833.75C255.54 830.42 257.62 824.79 259.50 820.00C261.38 815.21 263.37 810.83 265.00 805.00C266.63 799.17 268.05 792.50 269.30 785.00C270.55 777.50 271.38 769.17 272.50 760.00C273.62 750.83 275.02 740.00 276.00 730.00C276.98 720.00 277.82 707.08 278.40 700.00C278.98 692.92 278.80 700.00 279.50 687.50C280.20 675.00 281.56 643.75 282.60 625.00C283.64 606.25 284.60 589.58 285.75 575.00C286.90 560.42 288.56 544.79 289.50 537.50C290.44 530.21 290.77 532.97 291.40 531.25C292.03 529.53 292.70 528.09 293.30 527.20C293.90 526.31 294.55 525.90 295.00 525.90C295.45 525.90 295.70 526.31 296.00 527.20C296.30 528.09 296.26 529.53 296.80 531.25C297.34 532.97 298.01 530.21 299.25 537.50C300.49 544.79 302.38 560.42 304.25 575.00C306.12 589.58 308.62 606.25 310.50 625.00C312.38 643.75 314.33 674.58 315.50 687.50C316.67 700.42 316.75 694.58 317.50 702.50C318.25 710.42 319.17 724.58 320.00 735.00C320.83 745.42 321.67 755.83 322.50 765.00C323.33 774.17 324.08 782.50 325.00 790.00C325.92 797.50 326.83 804.17 328.00 810.00C329.17 815.83 330.75 820.42 332.00 825.00C333.25 829.58 334.17 834.25 335.50 837.50C336.83 840.75 337.79 843.25 340.00 844.50C342.21 845.75 346.04 845.12 348.75 845.00C351.46 844.88 353.96 843.54 356.25 843.75C358.54 843.96 360.71 845.42 362.50 846.25C364.29 847.08 365.33 849.04 367.00 848.75C368.67 848.46 370.75 845.46 372.50 844.50C374.25 843.54 375.62 843.00 377.50 843.00C379.38 843.00 381.88 845.00 383.75 844.50C385.62 844.00 386.88 842.21 388.75 840.00C390.62 837.79 393.12 835.42 395.00 831.25C396.88 827.08 398.33 821.46 400.00 815.00C401.67 808.54 403.67 799.17 405.00 792.50C406.33 785.83 407.08 781.67 408.00 775.00C408.92 768.33 409.67 760.42 410.50 752.50C411.33 744.58 412.25 735.83 413.00 727.50C413.75 719.17 414.25 710.42 415.00 702.50C415.75 694.58 416.67 686.67 417.50 680.00C418.33 673.33 418.96 667.29 420.00 662.50C421.04 657.71 422.42 654.50 423.75 651.25C425.08 648.00 426.75 644.88 428.00 643.00C429.25 641.12 430.17 639.88 431.25 640.00C432.33 640.12 433.54 640.42 434.50 643.75C435.46 647.08 436.17 652.29 437.00 660.00C437.83 667.71 438.67 680.00 439.50 690.00C440.33 700.00 441.17 709.58 442.00 720.00C442.83 730.42 443.79 741.67 444.50 752.50C445.21 763.33 445.67 774.58 446.25 785.00C446.83 795.42 447.38 807.50 448.00 815.00C448.62 822.50 449.04 826.46 450.00 830.00C450.96 833.54 452.29 834.38 453.75 836.25C455.21 838.12 457.21 839.38 458.75 841.25C460.29 843.12 461.54 847.50 463.00 847.50C464.46 847.50 465.92 842.58 467.50 841.25C469.08 839.92 470.42 839.38 472.50 839.50C474.58 839.62 477.50 841.42 480.00 842.00C482.50 842.58 484.17 842.92 487.50 843.00C490.83 843.08 496.58 842.08 500.00 842.50C503.42 842.92 505.50 846.33 508.00 845.50C510.50 844.67 512.58 839.04 515.00 837.50C517.42 835.96 520.00 836.88 522.50 836.25C525.00 835.62 527.08 833.54 530.00 833.75C532.92 833.96 536.67 837.50 540.00 837.50C543.33 837.50 547.29 834.17 550.00 833.75C552.71 833.33 554.17 834.04 556.25 835.00C558.33 835.96 559.58 838.75 562.50 839.50C565.42 840.25 570.62 838.79 573.75 839.50C576.88 840.21 580.21 843.04 581.25 843.75C582.29 844.46 578.33 843.21 580.00 843.75C581.67 844.29 588.12 847.21 591.25 847.00C594.38 846.79 596.46 842.62 598.75 842.50C601.04 842.38 602.71 845.21 605.00 846.25C607.29 847.29 609.79 849.17 612.50 848.75C615.21 848.33 618.96 844.58 621.25 843.75C623.54 842.92 624.38 843.33 626.25 843.75C628.12 844.17 630.21 846.12 632.50 846.25C634.79 846.38 637.50 844.38 640.00 844.50C642.50 844.62 645.21 846.71 647.50 847.00C649.79 847.29 651.46 845.42 653.75 846.25C656.04 847.08 658.33 851.58 661.25 852.00C664.17 852.42 668.12 849.83 671.25 848.75C674.38 847.67 677.50 845.92 680.00 845.50C682.50 845.08 683.96 845.50 686.25 846.25C688.54 847.00 691.04 849.04 693.75 850.00C696.46 850.96 699.79 852.00 702.50 852.00C705.21 852.00 707.50 850.00 710.00 850.00C712.50 850.00 715.21 852.42 717.50 852.00C719.79 851.58 721.88 849.71 723.75 847.50C725.62 845.29 727.29 840.50 728.75 838.75C730.21 837.00 731.25 836.79 732.50 837.00C733.75 837.21 734.79 838.04 736.25 840.00C737.71 841.96 739.17 846.75 741.25 848.75C743.33 850.75 746.46 850.88 748.75 852.00C751.04 853.12 752.71 855.42 755.00 855.50C757.29 855.58 759.79 853.08 762.50 852.50C765.21 851.92 768.33 852.42 771.25 852.00C774.17 851.58 777.50 850.33 780.00 850.00C782.50 849.67 783.96 849.58 786.25 850.00C788.54 850.42 791.46 852.29 793.75 852.50C796.04 852.71 797.92 852.42 800.00 851.25C802.08 850.08 803.54 846.46 806.25 845.50C808.96 844.54 813.46 845.58 816.25 845.50C819.04 845.42 821.12 844.25 823.00 845.00C824.88 845.75 825.92 848.96 827.50 850.00C829.08 851.04 830.83 851.67 832.50 851.25C834.17 850.83 835.62 848.96 837.50 847.50C839.38 846.04 840.42 843.42 843.75 842.50C847.08 841.58 854.17 841.79 857.50 842.00C860.83 842.21 861.46 843.88 863.75 843.75C866.04 843.62 868.75 842.29 871.25 841.25C873.75 840.21 876.41 839.17 878.75 837.50C881.09 835.83 883.67 834.33 885.30 831.25C886.92 828.17 887.30 823.79 888.50 819.00C889.70 814.21 891.10 808.38 892.50 802.50C893.90 796.62 895.69 790.00 896.90 783.75C898.11 777.50 899.08 770.21 899.75 765.00C900.42 759.79 900.67 757.50 900.90 752.50C901.12 747.50 901.05 740.83 901.10 735.00C901.15 729.17 900.76 722.50 901.20 717.50C901.64 712.50 902.70 708.54 903.75 705.00C904.80 701.46 906.25 698.75 907.50 696.25C908.75 693.75 910.08 691.04 911.25 690.00C912.42 688.96 913.36 688.33 914.50 690.00C915.64 691.67 917.00 695.00 918.10 700.00C919.20 705.00 919.93 714.17 921.10 720.00C922.27 725.83 923.73 730.42 925.10 735.00C926.48 739.58 928.10 741.67 929.35 747.50C930.60 753.33 931.56 762.08 932.60 770.00C933.64 777.92 934.48 787.92 935.60 795.00C936.73 802.08 937.68 807.08 939.35 812.50C941.02 817.92 943.62 822.50 945.60 827.50C947.58 832.50 949.48 838.67 951.25 842.50C953.02 846.33 954.58 848.75 956.25 850.50C957.92 852.25 959.38 853.08 961.25 853.00C963.12 852.92 965.21 850.50 967.50 850.00C969.79 849.50 972.71 850.62 975.00 850.00C977.29 849.38 979.17 846.25 981.25 846.25C983.33 846.25 985.21 848.96 987.50 850.00C989.79 851.04 992.71 853.12 995.00 852.50C997.29 851.88 999.38 847.58 1001.25 846.25C1003.12 844.92 1004.38 843.79 1006.25 844.50C1008.12 845.21 1010.21 850.21 1012.50 850.50C1014.79 850.79 1017.50 846.33 1020.00 846.25C1022.50 846.17 1024.79 849.38 1027.50 850.00C1030.21 850.62 1034.17 849.17 1036.25 850.00C1038.33 850.83 1037.71 853.83 1040.00 855.00C1042.29 856.17 1045.83 856.58 1050.00 857.00C1054.17 857.42 1060.42 858.33 1065.00 857.50C1069.58 856.67 1073.33 852.92 1077.50 852.00C1081.67 851.08 1086.67 851.50 1090.00 852.00C1093.33 852.50 1094.58 855.83 1097.50 855.00C1100.42 854.17 1104.17 848.46 1107.50 847.00C1110.83 845.54 1114.79 847.62 1117.50 846.25C1120.21 844.88 1122.00 840.12 1123.75 838.75C1125.50 837.38 1126.33 837.29 1128.00 838.00C1129.67 838.71 1131.96 842.88 1133.75 843.00C1135.54 843.12 1137.21 841.75 1138.75 838.75C1140.29 835.75 1141.75 830.62 1143.00 825.00C1144.25 819.38 1145.08 811.67 1146.25 805.00C1147.42 798.33 1148.54 790.00 1150.00 785.00C1151.46 780.00 1153.33 778.75 1155.00 775.00C1156.67 771.25 1158.54 767.08 1160.00 762.50C1161.46 757.92 1162.50 753.33 1163.75 747.50C1165.00 741.67 1166.38 732.50 1167.50 727.50C1168.62 722.50 1169.46 719.33 1170.50 717.50C1171.54 715.67 1172.58 716.29 1173.75 716.50C1174.92 716.71 1176.25 716.08 1177.50 718.75C1178.75 721.42 1180.08 727.29 1181.25 732.50C1182.42 737.71 1183.54 743.33 1184.50 750.00C1185.46 756.67 1186.08 764.58 1187.00 772.50C1187.92 780.42 1188.88 789.58 1190.00 797.50C1191.12 805.42 1192.42 813.33 1193.75 820.00C1195.08 826.67 1196.54 833.42 1198.00 837.50C1199.46 841.58 1200.92 844.29 1202.50 844.50C1204.08 844.71 1206.04 842.42 1207.50 838.75C1208.96 835.08 1210.00 829.79 1211.25 822.50C1212.50 815.21 1213.88 804.58 1215.00 795.00C1216.12 785.42 1217.08 775.00 1218.00 765.00C1218.92 755.00 1219.67 744.17 1220.50 735.00C1221.33 725.83 1222.04 716.35 1223.00 710.00C1223.96 703.65 1225.17 698.98 1226.25 696.90C1227.33 694.82 1228.46 694.48 1229.50 697.50C1230.54 700.52 1231.38 707.92 1232.50 715.00C1233.62 722.08 1234.79 732.50 1236.25 740.00C1237.71 747.50 1239.79 753.33 1241.25 760.00C1242.71 766.67 1243.75 774.17 1245.00 780.00C1246.25 785.83 1247.29 790.62 1248.75 795.00C1250.21 799.38 1251.67 803.54 1253.75 806.25C1255.83 808.96 1259.38 808.96 1261.25 811.25C1263.12 813.54 1263.54 816.46 1265.00 820.00C1266.46 823.54 1268.12 829.17 1270.00 832.50C1271.88 835.83 1274.17 838.00 1276.25 840.00C1278.33 842.00 1279.79 843.33 1282.50 844.50C1285.21 845.67 1289.79 847.25 1292.50 847.00C1295.21 846.75 1296.88 842.92 1298.75 843.00C1300.62 843.08 1302.08 846.25 1303.75 847.50C1305.42 848.75 1306.88 850.71 1308.75 850.50C1310.62 850.29 1312.71 847.38 1315.00 846.25C1317.29 845.12 1320.00 843.75 1322.50 843.75C1325.00 843.75 1327.50 845.42 1330.00 846.25C1332.50 847.08 1335.00 849.17 1337.50 848.75C1340.00 848.33 1342.71 845.00 1345.00 843.75C1347.29 842.50 1349.38 841.04 1351.25 841.25C1353.12 841.46 1354.38 843.54 1356.25 845.00C1358.12 846.46 1360.42 850.08 1362.50 850.00C1364.58 849.92 1366.88 845.67 1368.75 844.50C1370.62 843.33 1371.46 842.50 1373.75 843.00C1376.04 843.50 1379.38 845.92 1382.50 847.50C1385.62 849.08 1390.83 851.67 1392.50 852.50" transform="translate(0.5 0)"/></g>
<g fill="none" stroke="#000" stroke-width="5.50" stroke-linejoin="round" stroke-linecap="round"><path d="M134.60 1162.50C136.12 1162.50 141.18 1162.08 143.75 1162.50C146.32 1162.92 147.71 1163.67 150.00 1165.00C152.29 1166.33 155.21 1169.75 157.50 1170.50C159.79 1171.25 161.67 1168.54 163.75 1169.50C165.83 1170.46 167.92 1174.50 170.00 1176.25C172.08 1178.00 173.75 1179.58 176.25 1180.00C178.75 1180.42 182.08 1179.58 185.00 1178.75C187.92 1177.92 191.46 1174.58 193.75 1175.00C196.04 1175.42 197.08 1180.62 198.75 1181.25C200.42 1181.88 202.08 1179.17 203.75 1178.75C205.42 1178.33 207.08 1177.50 208.75 1178.75C210.42 1180.00 212.29 1185.21 213.75 1186.25C215.21 1187.29 216.12 1184.79 217.50 1185.00C218.88 1185.21 220.33 1188.54 222.00 1187.50C223.67 1186.46 225.54 1180.62 227.50 1178.75C229.46 1176.88 231.46 1176.54 233.75 1176.25C236.04 1175.96 239.04 1176.38 241.25 1177.00C243.46 1177.62 245.12 1180.42 247.00 1180.00C248.88 1179.58 250.33 1175.96 252.50 1174.50C254.67 1173.04 257.71 1173.25 260.00 1171.25C262.29 1169.25 264.25 1166.88 266.25 1162.50C268.25 1158.12 270.33 1152.50 272.00 1145.00C273.67 1137.50 274.92 1127.08 276.25 1117.50C277.58 1107.92 278.51 1097.92 280.00 1087.50C281.49 1077.08 283.75 1065.42 285.20 1055.00C286.65 1044.58 287.70 1035.42 288.70 1025.00C289.70 1014.58 290.45 1004.17 291.20 992.50C291.95 980.83 292.45 967.50 293.20 955.00C293.95 942.50 294.78 929.17 295.70 917.50C296.62 905.83 297.53 894.17 298.70 885.00C299.87 875.83 301.45 868.12 302.70 862.50C303.95 856.88 305.15 853.83 306.20 851.25C307.25 848.67 308.03 846.58 309.00 847.00C309.97 847.42 311.00 849.08 312.00 853.75C313.00 858.42 313.88 864.38 315.00 875.00C316.12 885.62 317.50 904.17 318.75 917.50C320.00 930.83 321.38 942.50 322.50 955.00C323.62 967.50 324.46 980.00 325.50 992.50C326.54 1005.00 327.50 1017.50 328.75 1030.00C330.00 1042.50 331.43 1055.83 333.00 1067.50C334.57 1079.17 336.47 1090.42 338.20 1100.00C339.93 1109.58 341.68 1117.71 343.40 1125.00C345.12 1132.29 346.65 1138.96 348.50 1143.75C350.35 1148.54 352.38 1151.46 354.50 1153.75C356.62 1156.04 359.08 1156.04 361.25 1157.50C363.42 1158.96 365.42 1160.21 367.50 1162.50C369.58 1164.79 371.67 1167.71 373.75 1171.25C375.83 1174.79 378.33 1181.25 380.00 1183.75C381.67 1186.25 382.08 1186.46 383.75 1186.25C385.42 1186.04 387.92 1183.75 390.00 1182.50C392.08 1181.25 394.17 1180.62 396.25 1178.75C398.33 1176.88 400.21 1173.33 402.50 1171.25C404.79 1169.17 408.12 1168.54 410.00 1166.25C411.88 1163.96 412.50 1162.71 413.75 1157.50C415.00 1152.29 416.25 1142.50 417.50 1135.00C418.75 1127.50 419.79 1118.75 421.25 1112.50C422.71 1106.25 424.79 1102.50 426.25 1097.50C427.71 1092.50 428.75 1089.58 430.00 1082.50C431.25 1075.42 432.38 1064.58 433.75 1055.00C435.12 1045.42 436.96 1035.42 438.20 1025.00C439.44 1014.58 440.07 1002.08 441.20 992.50C442.32 982.92 443.78 973.75 444.95 967.50C446.12 961.25 447.19 957.22 448.20 955.00C449.21 952.78 449.88 953.78 451.00 954.20C452.12 954.62 453.67 954.87 454.95 957.50C456.23 960.13 457.45 963.75 458.70 970.00C459.95 976.25 461.20 985.00 462.45 995.00C463.70 1005.00 465.15 1019.17 466.20 1030.00C467.25 1040.83 467.70 1051.25 468.75 1060.00C469.80 1068.75 471.04 1075.00 472.50 1082.50C473.96 1090.00 475.62 1097.92 477.50 1105.00C479.38 1112.08 481.67 1119.17 483.75 1125.00C485.83 1130.83 487.92 1135.00 490.00 1140.00C492.08 1145.00 494.38 1151.25 496.25 1155.00C498.12 1158.75 499.38 1161.04 501.25 1162.50C503.12 1163.96 505.21 1162.50 507.50 1163.75C509.79 1165.00 512.71 1169.04 515.00 1170.00C517.29 1170.96 519.17 1168.88 521.25 1169.50C523.33 1170.12 525.42 1172.83 527.50 1173.75C529.58 1174.67 531.67 1175.42 533.75 1175.00C535.83 1174.58 538.12 1172.83 540.00 1171.25C541.88 1169.67 543.54 1166.12 545.00 1165.50C546.46 1164.88 547.29 1165.92 548.75 1167.50C550.21 1169.08 551.88 1173.25 553.75 1175.00C555.62 1176.75 557.29 1177.50 560.00 1178.00C562.71 1178.50 566.67 1178.29 570.00 1178.00C573.33 1177.71 577.08 1177.50 580.00 1176.25C582.92 1175.00 584.79 1171.75 587.50 1170.50C590.21 1169.25 593.96 1167.58 596.25 1168.75C598.54 1169.92 599.38 1175.42 601.25 1177.50C603.12 1179.58 604.79 1181.04 607.50 1181.25C610.21 1181.46 613.75 1179.46 617.50 1178.75C621.25 1178.04 625.83 1177.21 630.00 1177.00C634.17 1176.79 638.75 1177.50 642.50 1177.50C646.25 1177.50 649.79 1177.83 652.50 1177.00C655.21 1176.17 656.88 1173.17 658.75 1172.50C660.62 1171.83 662.29 1171.12 663.75 1173.00C665.21 1174.88 666.04 1181.33 667.50 1183.75C668.96 1186.17 670.83 1186.96 672.50 1187.50C674.17 1188.04 675.42 1188.25 677.50 1187.00C679.58 1185.75 682.29 1181.25 685.00 1180.00C687.71 1178.75 691.25 1179.08 693.75 1179.50C696.25 1179.92 697.92 1183.25 700.00 1182.50C702.08 1181.75 704.38 1176.33 706.25 1175.00C708.12 1173.67 709.58 1174.29 711.25 1174.50C712.92 1174.71 714.38 1177.42 716.25 1176.25C718.12 1175.08 720.83 1169.17 722.50 1167.50C724.17 1165.83 723.96 1165.75 726.25 1166.25C728.54 1166.75 733.12 1168.62 736.25 1170.50C739.38 1172.38 742.29 1175.71 745.00 1177.50C747.71 1179.29 750.21 1181.04 752.50 1181.25C754.79 1181.46 756.67 1180.42 758.75 1178.75C760.83 1177.08 763.12 1172.71 765.00 1171.25C766.88 1169.79 767.92 1169.29 770.00 1170.00C772.08 1170.71 775.00 1174.88 777.50 1175.50C780.00 1176.12 782.29 1173.21 785.00 1173.75C787.71 1174.29 790.21 1178.12 793.75 1178.75C797.29 1179.38 802.50 1176.88 806.25 1177.50C810.00 1178.12 813.75 1181.88 816.25 1182.50C818.75 1183.12 819.58 1182.71 821.25 1181.25C822.92 1179.79 824.58 1175.71 826.25 1173.75C827.92 1171.79 828.96 1169.92 831.25 1169.50C833.54 1169.08 837.29 1170.96 840.00 1171.25C842.71 1171.54 845.21 1170.00 847.50 1171.25C849.79 1172.50 852.08 1177.29 853.75 1178.75C855.42 1180.21 856.04 1180.83 857.50 1180.00C858.96 1179.17 860.62 1177.08 862.50 1173.75C864.38 1170.42 866.46 1162.38 868.75 1160.00C871.04 1157.62 873.96 1159.92 876.25 1159.50C878.54 1159.08 880.62 1159.92 882.50 1157.50C884.38 1155.08 886.04 1148.33 887.50 1145.00C888.96 1141.67 889.58 1138.96 891.25 1137.50C892.92 1136.04 895.62 1138.33 897.50 1136.25C899.38 1134.17 901.04 1130.21 902.50 1125.00C903.96 1119.79 905.08 1112.50 906.25 1105.00C907.42 1097.50 908.54 1088.33 909.50 1080.00C910.46 1071.67 911.08 1063.33 912.00 1055.00C912.92 1046.67 914.00 1035.83 915.00 1030.00C916.00 1024.17 916.83 1022.17 918.00 1020.00C919.17 1017.83 920.62 1017.00 922.00 1017.00C923.38 1017.00 924.58 1018.04 926.25 1020.00C927.92 1021.96 930.46 1024.58 932.00 1028.75C933.54 1032.92 934.38 1038.54 935.50 1045.00C936.62 1051.46 937.58 1060.00 938.75 1067.50C939.92 1075.00 941.12 1083.33 942.50 1090.00C943.88 1096.67 945.33 1101.67 947.00 1107.50C948.67 1113.33 950.33 1120.62 952.50 1125.00C954.67 1129.38 957.71 1130.62 960.00 1133.75C962.29 1136.88 964.17 1139.79 966.25 1143.75C968.33 1147.71 970.21 1153.88 972.50 1157.50C974.79 1161.12 977.08 1163.00 980.00 1165.50C982.92 1168.00 986.67 1170.42 990.00 1172.50C993.33 1174.58 997.08 1176.12 1000.00 1178.00C1002.92 1179.88 1005.21 1182.58 1007.50 1183.75C1009.79 1184.92 1011.88 1185.21 1013.75 1185.00C1015.62 1184.79 1017.08 1183.75 1018.75 1182.50C1020.42 1181.25 1022.29 1178.42 1023.75 1177.50C1025.21 1176.58 1025.83 1175.75 1027.50 1177.00C1029.17 1178.25 1031.67 1182.75 1033.75 1185.00C1035.83 1187.25 1038.96 1189.46 1040.00 1190.50C1041.04 1191.54 1037.92 1191.12 1040.00 1191.25C1042.08 1191.38 1048.75 1191.54 1052.50 1191.25C1056.25 1190.96 1058.96 1189.50 1062.50 1189.50C1066.04 1189.50 1070.00 1191.17 1073.75 1191.25C1077.50 1191.33 1081.25 1190.42 1085.00 1190.00C1088.75 1189.58 1093.33 1189.79 1096.25 1188.75C1099.17 1187.71 1100.62 1185.54 1102.50 1183.75C1104.38 1181.96 1105.62 1178.96 1107.50 1178.00C1109.38 1177.04 1111.88 1177.46 1113.75 1178.00C1115.62 1178.54 1116.96 1179.75 1118.75 1181.25C1120.54 1182.75 1122.42 1186.79 1124.50 1187.00C1126.58 1187.21 1128.88 1183.58 1131.25 1182.50C1133.62 1181.42 1136.67 1180.58 1138.75 1180.50C1140.83 1180.42 1141.96 1180.92 1143.75 1182.00C1145.54 1183.08 1147.62 1186.92 1149.50 1187.00C1151.38 1187.08 1153.04 1184.92 1155.00 1182.50C1156.96 1180.08 1159.17 1176.04 1161.25 1172.50C1163.33 1168.96 1165.21 1163.25 1167.50 1161.25C1169.79 1159.25 1172.92 1161.96 1175.00 1160.50C1177.08 1159.04 1178.54 1156.75 1180.00 1152.50C1181.46 1148.25 1182.50 1141.67 1183.75 1135.00C1185.00 1128.33 1186.25 1120.83 1187.50 1112.50C1188.75 1104.17 1190.08 1092.92 1191.25 1085.00C1192.42 1077.08 1193.25 1070.42 1194.50 1065.00C1195.75 1059.58 1196.79 1056.88 1198.75 1052.50C1200.71 1048.12 1203.75 1042.10 1206.25 1038.75C1208.75 1035.40 1211.69 1033.64 1213.75 1032.40C1215.81 1031.16 1217.22 1030.45 1218.60 1031.30C1219.97 1032.15 1220.85 1032.72 1222.00 1037.50C1223.15 1042.28 1224.25 1052.92 1225.50 1060.00C1226.75 1067.08 1228.25 1073.33 1229.50 1080.00C1230.75 1086.67 1231.88 1093.75 1233.00 1100.00C1234.12 1106.25 1234.88 1111.67 1236.25 1117.50C1237.62 1123.33 1239.58 1130.00 1241.25 1135.00C1242.92 1140.00 1244.17 1144.38 1246.25 1147.50C1248.33 1150.62 1251.46 1152.08 1253.75 1153.75C1256.04 1155.42 1258.12 1155.42 1260.00 1157.50C1261.88 1159.58 1263.33 1164.08 1265.00 1166.25C1266.67 1168.42 1268.33 1170.50 1270.00 1170.50C1271.67 1170.50 1273.12 1169.04 1275.00 1166.25C1276.88 1163.46 1279.38 1156.46 1281.25 1153.75C1283.12 1151.04 1284.38 1150.21 1286.25 1150.00C1288.12 1149.79 1290.62 1151.88 1292.50 1152.50C1294.38 1153.12 1295.42 1154.58 1297.50 1153.75C1299.58 1152.92 1302.71 1149.58 1305.00 1147.50C1307.29 1145.42 1309.25 1142.58 1311.25 1141.25C1313.25 1139.92 1315.33 1139.08 1317.00 1139.50C1318.67 1139.92 1319.50 1141.17 1321.25 1143.75C1323.00 1146.33 1325.62 1152.29 1327.50 1155.00C1329.38 1157.71 1330.62 1158.33 1332.50 1160.00C1334.38 1161.67 1336.88 1162.71 1338.75 1165.00C1340.62 1167.29 1341.88 1171.58 1343.75 1173.75C1345.62 1175.92 1347.50 1176.96 1350.00 1178.00C1352.50 1179.04 1356.04 1178.83 1358.75 1180.00C1361.46 1181.17 1363.96 1183.54 1366.25 1185.00C1368.54 1186.46 1369.79 1188.42 1372.50 1188.75C1375.21 1189.08 1379.37 1187.39 1382.50 1187.00C1385.63 1186.61 1389.83 1186.50 1391.30 1186.40" transform="translate(-0.5 0)"/><path d="M134.60 1162.50C136.12 1162.50 141.18 1162.08 143.75 1162.50C146.32 1162.92 147.71 1163.67 150.00 1165.00C152.29 1166.33 155.21 1169.75 157.50 1170.50C159.79 1171.25 161.67 1168.54 163.75 1169.50C165.83 1170.46 167.92 1174.50 170.00 1176.25C172.08 1178.00 173.75 1179.58 176.25 1180.00C178.75 1180.42 182.08 1179.58 185.00 1178.75C187.92 1177.92 191.46 1174.58 193.75 1175.00C196.04 1175.42 197.08 1180.62 198.75 1181.25C200.42 1181.88 202.08 1179.17 203.75 1178.75C205.42 1178.33 207.08 1177.50 208.75 1178.75C210.42 1180.00 212.29 1185.21 213.75 1186.25C215.21 1187.29 216.12 1184.79 217.50 1185.00C218.88 1185.21 220.33 1188.54 222.00 1187.50C223.67 1186.46 225.54 1180.62 227.50 1178.75C229.46 1176.88 231.46 1176.54 233.75 1176.25C236.04 1175.96 239.04 1176.38 241.25 1177.00C243.46 1177.62 245.12 1180.42 247.00 1180.00C248.88 1179.58 250.33 1175.96 252.50 1174.50C254.67 1173.04 257.71 1173.25 260.00 1171.25C262.29 1169.25 264.25 1166.88 266.25 1162.50C268.25 1158.12 270.33 1152.50 272.00 1145.00C273.67 1137.50 274.92 1127.08 276.25 1117.50C277.58 1107.92 278.51 1097.92 280.00 1087.50C281.49 1077.08 283.75 1065.42 285.20 1055.00C286.65 1044.58 287.70 1035.42 288.70 1025.00C289.70 1014.58 290.45 1004.17 291.20 992.50C291.95 980.83 292.45 967.50 293.20 955.00C293.95 942.50 294.78 929.17 295.70 917.50C296.62 905.83 297.53 894.17 298.70 885.00C299.87 875.83 301.45 868.12 302.70 862.50C303.95 856.88 305.15 853.83 306.20 851.25C307.25 848.67 308.03 846.58 309.00 847.00C309.97 847.42 311.00 849.08 312.00 853.75C313.00 858.42 313.88 864.38 315.00 875.00C316.12 885.62 317.50 904.17 318.75 917.50C320.00 930.83 321.38 942.50 322.50 955.00C323.62 967.50 324.46 980.00 325.50 992.50C326.54 1005.00 327.50 1017.50 328.75 1030.00C330.00 1042.50 331.43 1055.83 333.00 1067.50C334.57 1079.17 336.47 1090.42 338.20 1100.00C339.93 1109.58 341.68 1117.71 343.40 1125.00C345.12 1132.29 346.65 1138.96 348.50 1143.75C350.35 1148.54 352.38 1151.46 354.50 1153.75C356.62 1156.04 359.08 1156.04 361.25 1157.50C363.42 1158.96 365.42 1160.21 367.50 1162.50C369.58 1164.79 371.67 1167.71 373.75 1171.25C375.83 1174.79 378.33 1181.25 380.00 1183.75C381.67 1186.25 382.08 1186.46 383.75 1186.25C385.42 1186.04 387.92 1183.75 390.00 1182.50C392.08 1181.25 394.17 1180.62 396.25 1178.75C398.33 1176.88 400.21 1173.33 402.50 1171.25C404.79 1169.17 408.12 1168.54 410.00 1166.25C411.88 1163.96 412.50 1162.71 413.75 1157.50C415.00 1152.29 416.25 1142.50 417.50 1135.00C418.75 1127.50 419.79 1118.75 421.25 1112.50C422.71 1106.25 424.79 1102.50 426.25 1097.50C427.71 1092.50 428.75 1089.58 430.00 1082.50C431.25 1075.42 432.38 1064.58 433.75 1055.00C435.12 1045.42 436.96 1035.42 438.20 1025.00C439.44 1014.58 440.07 1002.08 441.20 992.50C442.32 982.92 443.78 973.75 444.95 967.50C446.12 961.25 447.19 957.22 448.20 955.00C449.21 952.78 449.88 953.78 451.00 954.20C452.12 954.62 453.67 954.87 454.95 957.50C456.23 960.13 457.45 963.75 458.70 970.00C459.95 976.25 461.20 985.00 462.45 995.00C463.70 1005.00 465.15 1019.17 466.20 1030.00C467.25 1040.83 467.70 1051.25 468.75 1060.00C469.80 1068.75 471.04 1075.00 472.50 1082.50C473.96 1090.00 475.62 1097.92 477.50 1105.00C479.38 1112.08 481.67 1119.17 483.75 1125.00C485.83 1130.83 487.92 1135.00 490.00 1140.00C492.08 1145.00 494.38 1151.25 496.25 1155.00C498.12 1158.75 499.38 1161.04 501.25 1162.50C503.12 1163.96 505.21 1162.50 507.50 1163.75C509.79 1165.00 512.71 1169.04 515.00 1170.00C517.29 1170.96 519.17 1168.88 521.25 1169.50C523.33 1170.12 525.42 1172.83 527.50 1173.75C529.58 1174.67 531.67 1175.42 533.75 1175.00C535.83 1174.58 538.12 1172.83 540.00 1171.25C541.88 1169.67 543.54 1166.12 545.00 1165.50C546.46 1164.88 547.29 1165.92 548.75 1167.50C550.21 1169.08 551.88 1173.25 553.75 1175.00C555.62 1176.75 557.29 1177.50 560.00 1178.00C562.71 1178.50 566.67 1178.29 570.00 1178.00C573.33 1177.71 577.08 1177.50 580.00 1176.25C582.92 1175.00 584.79 1171.75 587.50 1170.50C590.21 1169.25 593.96 1167.58 596.25 1168.75C598.54 1169.92 599.38 1175.42 601.25 1177.50C603.12 1179.58 604.79 1181.04 607.50 1181.25C610.21 1181.46 613.75 1179.46 617.50 1178.75C621.25 1178.04 625.83 1177.21 630.00 1177.00C634.17 1176.79 638.75 1177.50 642.50 1177.50C646.25 1177.50 649.79 1177.83 652.50 1177.00C655.21 1176.17 656.88 1173.17 658.75 1172.50C660.62 1171.83 662.29 1171.12 663.75 1173.00C665.21 1174.88 666.04 1181.33 667.50 1183.75C668.96 1186.17 670.83 1186.96 672.50 1187.50C674.17 1188.04 675.42 1188.25 677.50 1187.00C679.58 1185.75 682.29 1181.25 685.00 1180.00C687.71 1178.75 691.25 1179.08 693.75 1179.50C696.25 1179.92 697.92 1183.25 700.00 1182.50C702.08 1181.75 704.38 1176.33 706.25 1175.00C708.12 1173.67 709.58 1174.29 711.25 1174.50C712.92 1174.71 714.38 1177.42 716.25 1176.25C718.12 1175.08 720.83 1169.17 722.50 1167.50C724.17 1165.83 723.96 1165.75 726.25 1166.25C728.54 1166.75 733.12 1168.62 736.25 1170.50C739.38 1172.38 742.29 1175.71 745.00 1177.50C747.71 1179.29 750.21 1181.04 752.50 1181.25C754.79 1181.46 756.67 1180.42 758.75 1178.75C760.83 1177.08 763.12 1172.71 765.00 1171.25C766.88 1169.79 767.92 1169.29 770.00 1170.00C772.08 1170.71 775.00 1174.88 777.50 1175.50C780.00 1176.12 782.29 1173.21 785.00 1173.75C787.71 1174.29 790.21 1178.12 793.75 1178.75C797.29 1179.38 802.50 1176.88 806.25 1177.50C810.00 1178.12 813.75 1181.88 816.25 1182.50C818.75 1183.12 819.58 1182.71 821.25 1181.25C822.92 1179.79 824.58 1175.71 826.25 1173.75C827.92 1171.79 828.96 1169.92 831.25 1169.50C833.54 1169.08 837.29 1170.96 840.00 1171.25C842.71 1171.54 845.21 1170.00 847.50 1171.25C849.79 1172.50 852.08 1177.29 853.75 1178.75C855.42 1180.21 856.04 1180.83 857.50 1180.00C858.96 1179.17 860.62 1177.08 862.50 1173.75C864.38 1170.42 866.46 1162.38 868.75 1160.00C871.04 1157.62 873.96 1159.92 876.25 1159.50C878.54 1159.08 880.62 1159.92 882.50 1157.50C884.38 1155.08 886.04 1148.33 887.50 1145.00C888.96 1141.67 889.58 1138.96 891.25 1137.50C892.92 1136.04 895.62 1138.33 897.50 1136.25C899.38 1134.17 901.04 1130.21 902.50 1125.00C903.96 1119.79 905.08 1112.50 906.25 1105.00C907.42 1097.50 908.54 1088.33 909.50 1080.00C910.46 1071.67 911.08 1063.33 912.00 1055.00C912.92 1046.67 914.00 1035.83 915.00 1030.00C916.00 1024.17 916.83 1022.17 918.00 1020.00C919.17 1017.83 920.62 1017.00 922.00 1017.00C923.38 1017.00 924.58 1018.04 926.25 1020.00C927.92 1021.96 930.46 1024.58 932.00 1028.75C933.54 1032.92 934.38 1038.54 935.50 1045.00C936.62 1051.46 937.58 1060.00 938.75 1067.50C939.92 1075.00 941.12 1083.33 942.50 1090.00C943.88 1096.67 945.33 1101.67 947.00 1107.50C948.67 1113.33 950.33 1120.62 952.50 1125.00C954.67 1129.38 957.71 1130.62 960.00 1133.75C962.29 1136.88 964.17 1139.79 966.25 1143.75C968.33 1147.71 970.21 1153.88 972.50 1157.50C974.79 1161.12 977.08 1163.00 980.00 1165.50C982.92 1168.00 986.67 1170.42 990.00 1172.50C993.33 1174.58 997.08 1176.12 1000.00 1178.00C1002.92 1179.88 1005.21 1182.58 1007.50 1183.75C1009.79 1184.92 1011.88 1185.21 1013.75 1185.00C1015.62 1184.79 1017.08 1183.75 1018.75 1182.50C1020.42 1181.25 1022.29 1178.42 1023.75 1177.50C1025.21 1176.58 1025.83 1175.75 1027.50 1177.00C1029.17 1178.25 1031.67 1182.75 1033.75 1185.00C1035.83 1187.25 1038.96 1189.46 1040.00 1190.50C1041.04 1191.54 1037.92 1191.12 1040.00 1191.25C1042.08 1191.38 1048.75 1191.54 1052.50 1191.25C1056.25 1190.96 1058.96 1189.50 1062.50 1189.50C1066.04 1189.50 1070.00 1191.17 1073.75 1191.25C1077.50 1191.33 1081.25 1190.42 1085.00 1190.00C1088.75 1189.58 1093.33 1189.79 1096.25 1188.75C1099.17 1187.71 1100.62 1185.54 1102.50 1183.75C1104.38 1181.96 1105.62 1178.96 1107.50 1178.00C1109.38 1177.04 1111.88 1177.46 1113.75 1178.00C1115.62 1178.54 1116.96 1179.75 1118.75 1181.25C1120.54 1182.75 1122.42 1186.79 1124.50 1187.00C1126.58 1187.21 1128.88 1183.58 1131.25 1182.50C1133.62 1181.42 1136.67 1180.58 1138.75 1180.50C1140.83 1180.42 1141.96 1180.92 1143.75 1182.00C1145.54 1183.08 1147.62 1186.92 1149.50 1187.00C1151.38 1187.08 1153.04 1184.92 1155.00 1182.50C1156.96 1180.08 1159.17 1176.04 1161.25 1172.50C1163.33 1168.96 1165.21 1163.25 1167.50 1161.25C1169.79 1159.25 1172.92 1161.96 1175.00 1160.50C1177.08 1159.04 1178.54 1156.75 1180.00 1152.50C1181.46 1148.25 1182.50 1141.67 1183.75 1135.00C1185.00 1128.33 1186.25 1120.83 1187.50 1112.50C1188.75 1104.17 1190.08 1092.92 1191.25 1085.00C1192.42 1077.08 1193.25 1070.42 1194.50 1065.00C1195.75 1059.58 1196.79 1056.88 1198.75 1052.50C1200.71 1048.12 1203.75 1042.10 1206.25 1038.75C1208.75 1035.40 1211.69 1033.64 1213.75 1032.40C1215.81 1031.16 1217.22 1030.45 1218.60 1031.30C1219.97 1032.15 1220.85 1032.72 1222.00 1037.50C1223.15 1042.28 1224.25 1052.92 1225.50 1060.00C1226.75 1067.08 1228.25 1073.33 1229.50 1080.00C1230.75 1086.67 1231.88 1093.75 1233.00 1100.00C1234.12 1106.25 1234.88 1111.67 1236.25 1117.50C1237.62 1123.33 1239.58 1130.00 1241.25 1135.00C1242.92 1140.00 1244.17 1144.38 1246.25 1147.50C1248.33 1150.62 1251.46 1152.08 1253.75 1153.75C1256.04 1155.42 1258.12 1155.42 1260.00 1157.50C1261.88 1159.58 1263.33 1164.08 1265.00 1166.25C1266.67 1168.42 1268.33 1170.50 1270.00 1170.50C1271.67 1170.50 1273.12 1169.04 1275.00 1166.25C1276.88 1163.46 1279.38 1156.46 1281.25 1153.75C1283.12 1151.04 1284.38 1150.21 1286.25 1150.00C1288.12 1149.79 1290.62 1151.88 1292.50 1152.50C1294.38 1153.12 1295.42 1154.58 1297.50 1153.75C1299.58 1152.92 1302.71 1149.58 1305.00 1147.50C1307.29 1145.42 1309.25 1142.58 1311.25 1141.25C1313.25 1139.92 1315.33 1139.08 1317.00 1139.50C1318.67 1139.92 1319.50 1141.17 1321.25 1143.75C1323.00 1146.33 1325.62 1152.29 1327.50 1155.00C1329.38 1157.71 1330.62 1158.33 1332.50 1160.00C1334.38 1161.67 1336.88 1162.71 1338.75 1165.00C1340.62 1167.29 1341.88 1171.58 1343.75 1173.75C1345.62 1175.92 1347.50 1176.96 1350.00 1178.00C1352.50 1179.04 1356.04 1178.83 1358.75 1180.00C1361.46 1181.17 1363.96 1183.54 1366.25 1185.00C1368.54 1186.46 1369.79 1188.42 1372.50 1188.75C1375.21 1189.08 1379.37 1187.39 1382.50 1187.00C1385.63 1186.61 1389.83 1186.50 1391.30 1186.40" transform="translate(0.5 0)"/></g>
<rect x="414.0" y="672.5" width="5.8" height="68.3" fill="#000"/>
<rect x="56.02" y="1243.90" width="1675.51" height="5.70" fill="#000"/>
<rect x="52.97" y="1246.90" width="6.1" height="12.90" fill="#000"/>
<rect x="181.85" y="1248.60" width="6.1" height="24.20" fill="#000"/>
<rect x="310.73" y="1248.60" width="6.1" height="11.20" fill="#000"/>
<rect x="439.62" y="1248.60" width="6.1" height="24.20" fill="#000"/>
<rect x="568.51" y="1248.60" width="6.1" height="11.20" fill="#000"/>
<rect x="697.39" y="1248.60" width="6.1" height="24.20" fill="#000"/>
<rect x="826.28" y="1248.60" width="6.1" height="11.20" fill="#000"/>
<rect x="955.16" y="1248.60" width="6.1" height="24.20" fill="#000"/>
<rect x="1084.05" y="1248.60" width="6.1" height="11.20" fill="#000"/>
<rect x="1212.93" y="1248.60" width="6.1" height="24.20" fill="#000"/>
<rect x="1341.82" y="1248.60" width="6.1" height="11.20" fill="#000"/>
<rect x="1470.70" y="1248.60" width="6.1" height="24.20" fill="#000"/>
<rect x="1599.59" y="1248.60" width="6.1" height="11.20" fill="#000"/>
<rect x="1728.47" y="1246.90" width="6.1" height="25.90" fill="#000"/>
<text x="185.30" y="1338.8" font-family="'Liberation Serif', serif" font-size="70" text-anchor="middle" fill="#000">30</text>
<text x="443.07" y="1338.8" font-family="'Liberation Serif', serif" font-size="70" text-anchor="middle" fill="#000">40</text>
<text x="700.84" y="1338.8" font-family="'Liberation Serif', serif" font-size="70" text-anchor="middle" fill="#000">50</text>
<text x="958.61" y="1338.8" font-family="'Liberation Serif', serif" font-size="70" text-anchor="middle" fill="#000">60</text>
<text x="1216.38" y="1338.8" font-family="'Liberation Serif', serif" font-size="70" text-anchor="middle" fill="#000">70</text>
<text x="1474.15" y="1338.8" font-family="'Liberation Serif', serif" font-size="70" text-anchor="middle" fill="#000">80</text>
<text x="1731.92" y="1338.8" font-family="'Liberation Serif', serif" font-size="70" text-anchor="middle" fill="#000">90</text>
<text font-family="'Liberation Serif', serif" font-size="70" fill="#000"><tspan x="783.2" y="1453.5">2</tspan><tspan x="818.6" y="1454.2" font-size="77" textLength="56.5" lengthAdjust="spacingAndGlyphs">Θ</tspan><tspan x="871.5" y="1453.5" xml:space="preserve">, </tspan><tspan x="909.3" y="1453.5" textLength="111.5" lengthAdjust="spacingAndGlyphs">deg</tspan></text>
<text x="1596.8" y="339.5" font-family="'Liberation Serif', serif" font-size="72.5" textLength="226.5" lengthAdjust="spacingAndGlyphs" fill="#000">Carbon</text>
<text font-family="'Liberation Serif', serif" font-size="72" fill="#000"><tspan x="1597" y="441.3" textLength="102" lengthAdjust="spacingAndGlyphs">Mo</tspan><tspan x="1698.3" y="465.8" font-size="48">2</tspan><tspan x="1722.5" y="441.6" font-size="73.5">C</tspan></text>
<text x="1601.8" y="755" font-family="'Liberation Serif', serif" font-size="72" textLength="146.5" lengthAdjust="spacingAndGlyphs" fill="#000">NbC</text>
<text x="1615.2" y="1062" font-family="'Liberation Serif', serif" font-size="72" textLength="126.3" lengthAdjust="spacingAndGlyphs" fill="#000">TaC</text>
<polygon points="305.80,192.80 306.80,191.20 344.00,191.20 344.00,194.80 326.40,224.40 323.60,224.40" fill="#000"/><polygon points="310.25,194.25 339.75,194.25 325.00,219.60" fill="#fff"/>
<polygon points="398.20,190.60 399.20,189.00 436.40,189.00 436.40,192.60 418.80,222.20 416.00,222.20" fill="#000"/><polygon points="402.65,192.05 432.15,192.05 417.40,217.40" fill="#fff"/>
<polygon points="426.70,46.80 427.70,45.20 464.90,45.20 464.90,48.80 447.30,78.40 444.50,78.40" fill="#000"/><polygon points="431.15,48.25 460.65,48.25 445.90,73.60" fill="#fff"/>
<polygon points="728.30,399.50 729.30,397.90 766.50,397.90 766.50,401.50 748.90,431.10 746.10,431.10" fill="#000"/><polygon points="732.75,400.95 762.25,400.95 747.50,426.30" fill="#fff"/>
<polygon points="822.80,267.80 823.80,266.20 861.00,266.20 861.00,269.80 843.40,299.40 840.60,299.40" fill="#000"/><polygon points="827.25,269.25 856.75,269.25 842.00,294.60" fill="#fff"/>
<polygon points="1006.40,261.60 1007.40,260.00 1044.60,260.00 1044.60,263.60 1027.00,293.20 1024.20,293.20" fill="#000"/><polygon points="1010.85,263.05 1040.35,263.05 1025.60,288.40" fill="#fff"/>
<polygon points="1186.80,310.30 1187.80,308.70 1225.00,308.70 1225.00,312.30 1207.40,341.90 1204.60,341.90" fill="#000"/><polygon points="1191.25,311.75 1220.75,311.75 1206.00,337.10" fill="#fff"/>
<polygon points="1279.80,285.30 1280.80,283.70 1318.00,283.70 1318.00,287.30 1300.40,316.90 1297.60,316.90" fill="#000"/><polygon points="1284.25,286.75 1313.75,286.75 1299.00,312.10" fill="#fff"/>
<polygon points="1305.80,323.30 1306.80,321.70 1344.00,321.70 1344.00,325.30 1326.40,354.90 1323.60,354.90" fill="#000"/><polygon points="1310.25,324.75 1339.75,324.75 1325.00,350.10" fill="#fff"/>
<polygon points="1467.10,404.46 1468.10,402.86 1505.30,402.86 1505.30,406.46 1487.70,436.06 1484.90,436.06" fill="#000"/><polygon points="1471.55,405.91 1501.05,405.91 1486.30,431.26" fill="#fff"/>
<polygon points="183.80,277.50 186.60,277.50 204.30,307.40 204.30,310.55 166.10,310.55 166.10,307.70" fill="#000"/>
<polygon points="559.70,328.00 562.50,328.00 580.20,357.90 580.20,361.05 542.00,361.05 542.00,358.20" fill="#000"/>
<polygon points="1484.60,290.86 1487.40,290.86 1505.10,320.76 1505.10,323.91 1466.90,323.91 1466.90,321.06" fill="#000"/>
<circle cx="296.10" cy="495.30" r="14.35" fill="#fff" stroke="#000" stroke-width="3.50"/>
<circle cx="436.50" cy="604.40" r="14.35" fill="#fff" stroke="#000" stroke-width="3.50"/>
<circle cx="915.75" cy="652.00" r="14.35" fill="#fff" stroke="#000" stroke-width="3.50"/>
<circle cx="902.00" cy="666.75" r="14.35" fill="#fff" stroke="#000" stroke-width="3.50"/>
<circle cx="1167.00" cy="685.40" r="14.35" fill="#fff" stroke="#000" stroke-width="3.50"/>
<circle cx="1229.00" cy="658.00" r="14.35" fill="#fff" stroke="#000" stroke-width="3.50"/>
<circle cx="1492.00" cy="728.95" r="14.35" fill="#fff" stroke="#000" stroke-width="3.50"/>
<rect x="294.00" y="803.00" width="29.00" height="29.00" fill="#000"/>
<rect x="434.00" y="889.00" width="29.00" height="29.00" fill="#000"/>
<rect x="907.00" y="952.00" width="29.00" height="29.00" fill="#000"/>
<rect x="1200.00" y="979.00" width="29.00" height="29.00" fill="#000"/>
<rect x="1302.00" y="1090.00" width="29.00" height="28.20" fill="#000"/>
<rect x="1490.00" y="1021.00" width="29.00" height="29.00" fill="#000"/>
</svg>
</body></html>
